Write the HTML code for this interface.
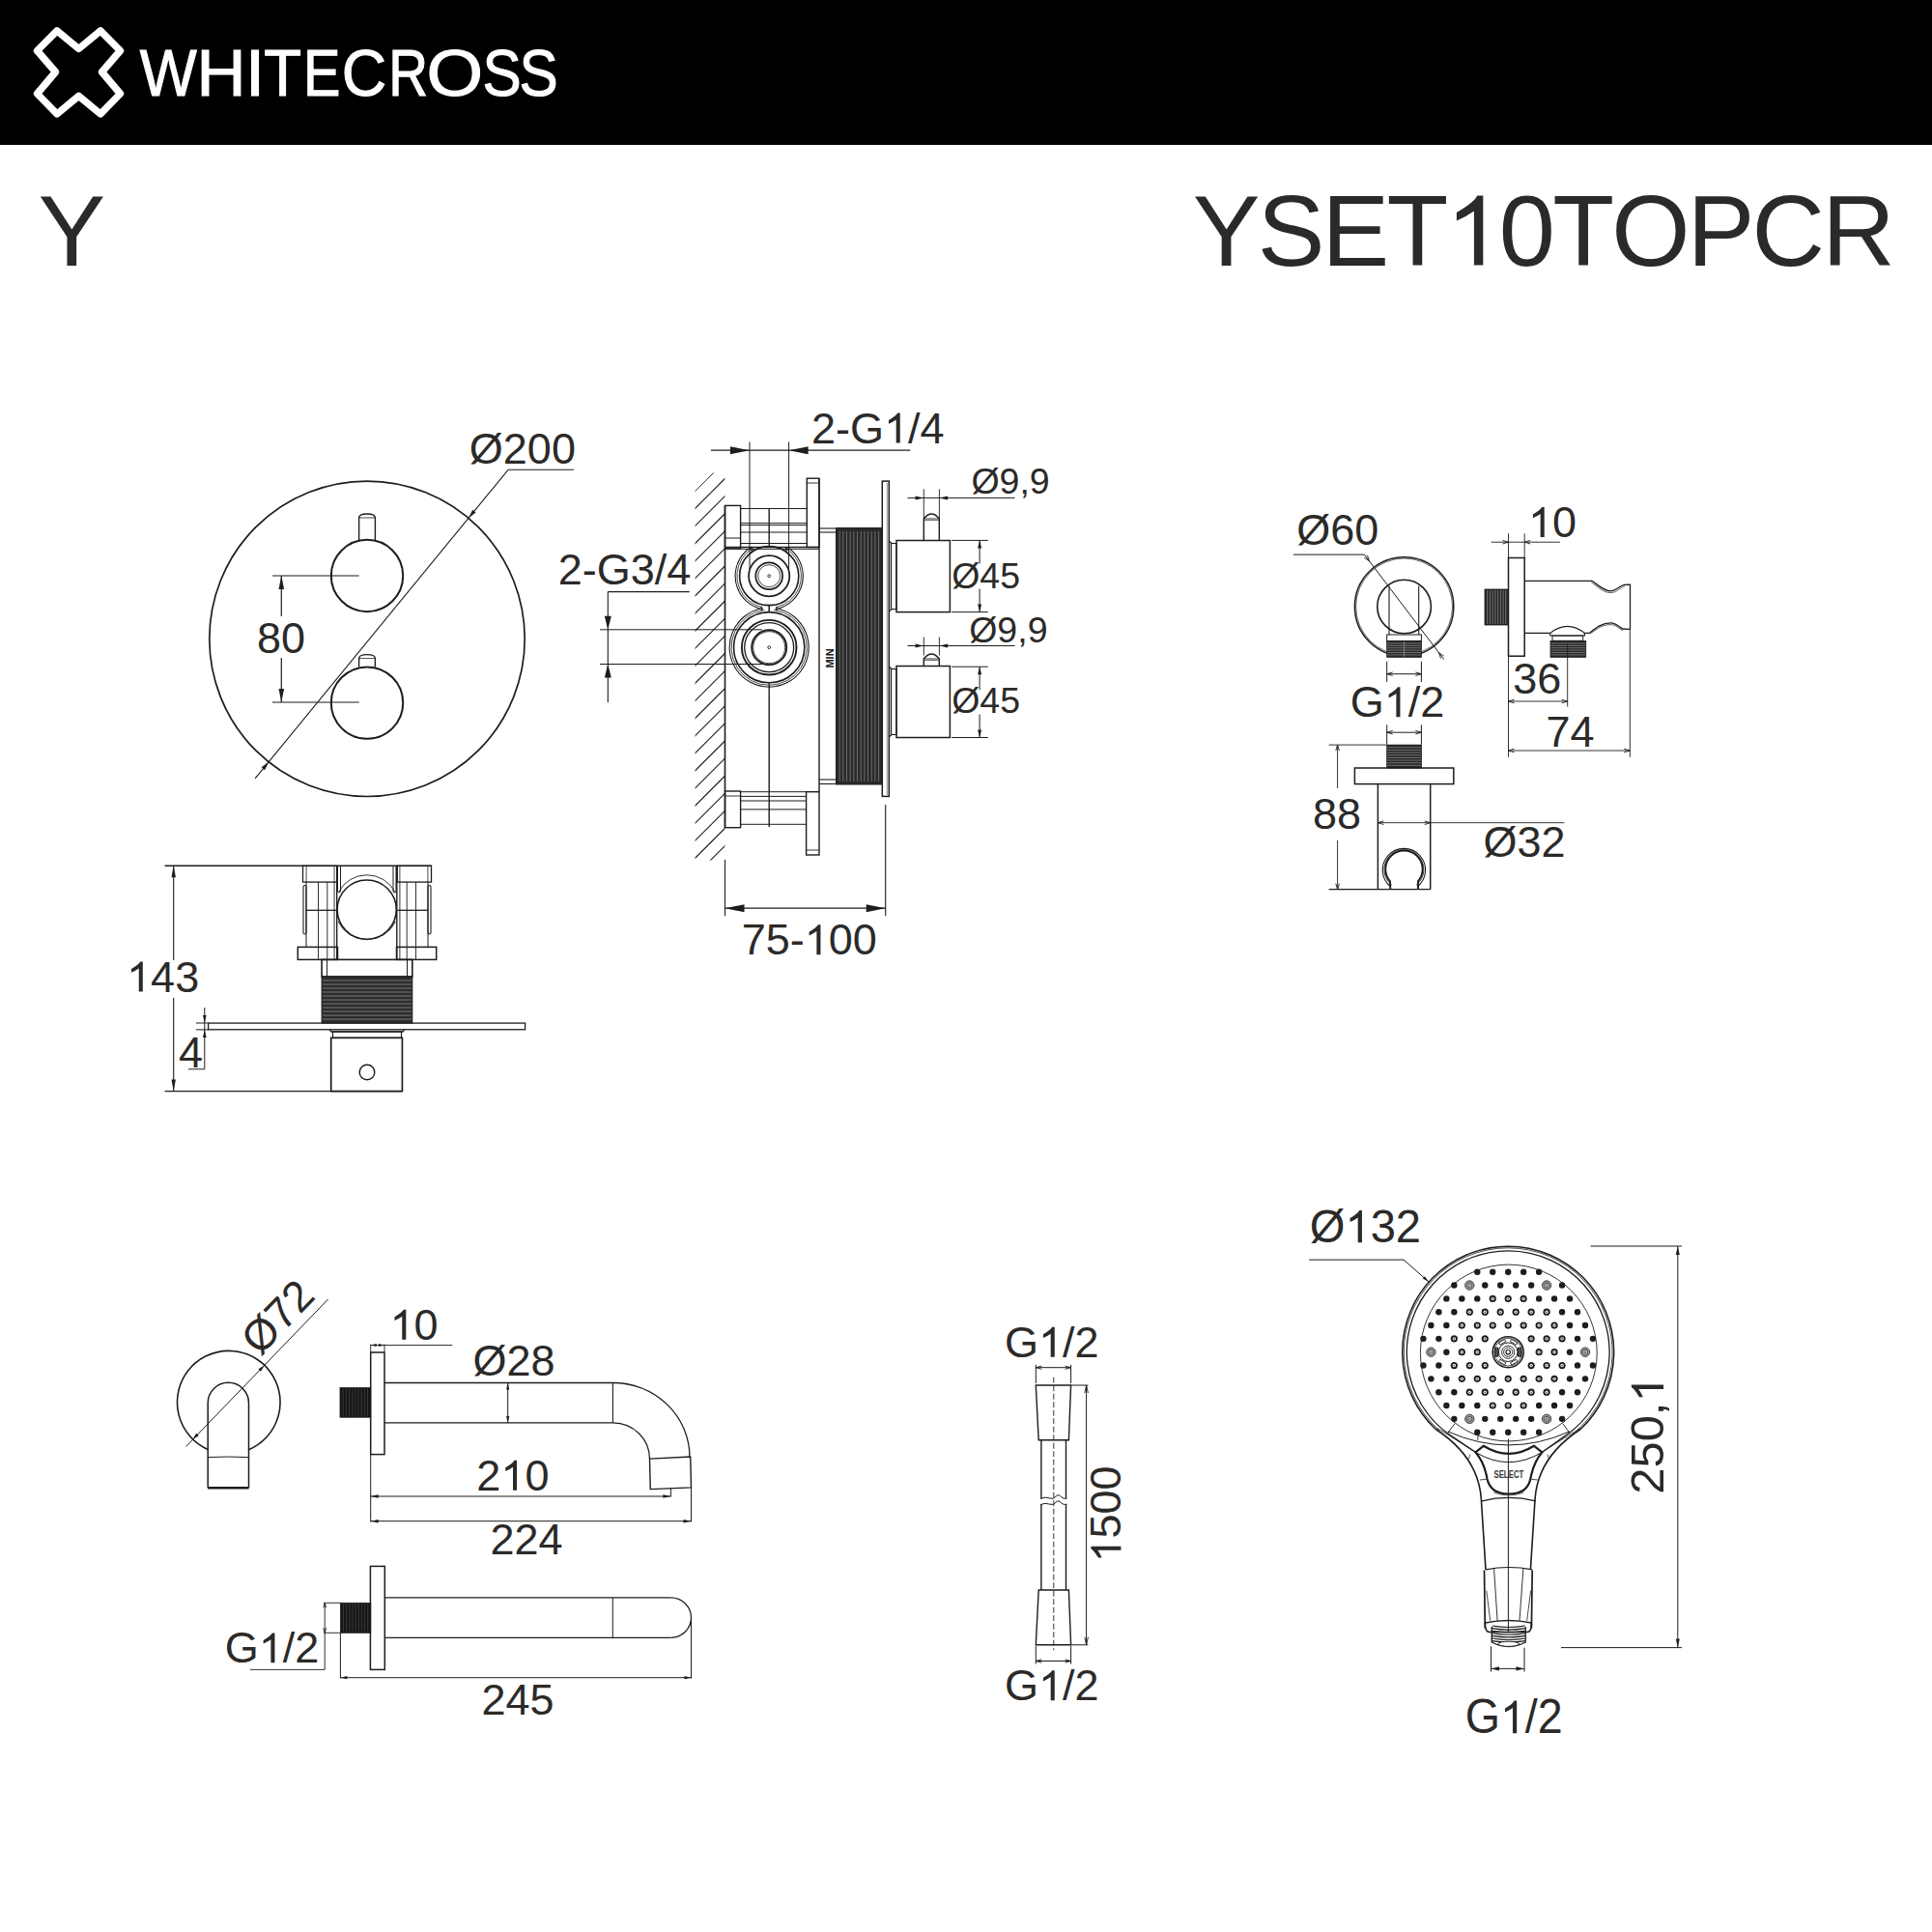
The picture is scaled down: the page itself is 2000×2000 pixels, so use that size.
<!DOCTYPE html>
<html><head><meta charset="utf-8"><style>
html,body{margin:0;padding:0;background:#fff;}
svg{display:block;}
text{font-family:"Liberation Sans",sans-serif;font-kerning:none;}
</style></head><body>
<svg width="2000" height="2000" viewBox="0 0 2000 2000">
<rect x="0" y="0" width="2000" height="150" fill="#000"/>
<path d="M81.5,50.5 L104,31.8 L124.5,52.5 L105.5,74.5 L124.5,97 L104,118 L81.5,99.4 L59,118 L38.5,97 L57.5,74.5 L38.5,52.5 L59,31.8 Z" fill="none" stroke="#fff" stroke-width="7.4" stroke-linejoin="round"/>
<text x="0" y="0" font-size="69" fill="#fff" stroke="#fff" stroke-width="1.1" transform="translate(144.73,99.3) scale(0.9058,1)">W</text>
<text x="0" y="0" font-size="69" fill="#fff" stroke="#fff" stroke-width="1.1" transform="translate(203.50,99.3) scale(1.0248,1)">H</text>
<text x="0" y="0" font-size="69" fill="#fff" stroke="#fff" stroke-width="1.1" transform="translate(253.67,99.3) scale(1.0723,1)">I</text>
<text x="0" y="0" font-size="69" fill="#fff" stroke="#fff" stroke-width="1.1" transform="translate(273.37,99.3) scale(0.9202,1)">T</text>
<text x="0" y="0" font-size="69" fill="#fff" stroke="#fff" stroke-width="1.1" transform="translate(314.08,99.3) scale(0.8343,1)">E</text>
<text x="0" y="0" font-size="69" fill="#fff" stroke="#fff" stroke-width="1.1" transform="translate(353.64,99.3) scale(0.9314,1)">C</text>
<text x="0" y="0" font-size="69" fill="#fff" stroke="#fff" stroke-width="1.1" transform="translate(402.26,99.3) scale(0.8201,1)">R</text>
<text x="0" y="0" font-size="69" fill="#fff" stroke="#fff" stroke-width="1.1" transform="translate(441.43,99.3) scale(1.0913,1)">O</text>
<text x="0" y="0" font-size="69" fill="#fff" stroke="#fff" stroke-width="1.1" transform="translate(499.46,99.3) scale(0.8736,1)">S</text>
<text x="0" y="0" font-size="69" fill="#fff" stroke="#fff" stroke-width="1.1" transform="translate(537.56,99.3) scale(0.8736,1)">S</text>
<text x="39.50" y="274.50" font-size="104.5" text-anchor="start" fill="#2b2a29" >Y</text>
<g transform="translate(1234.8,274.5)"><text x="0.00" y="0" font-size="104.5" fill="#2b2a29" letter-spacing="-2.8">YSET</text><path d="M576,0 L760,0 L760,1409 L641,1409 Q585,1278 223,1067 L223,900 Q430,990 576,1096 Z" fill="#2b2a29" transform="translate(261.73,0) scale(0.05103,-0.05103)"/><text x="317.05" y="0" font-size="104.5" fill="#2b2a29" letter-spacing="-2.8">0TOPCR</text></g>
<circle cx="380.00" cy="661.30" r="163.20" fill="none" stroke="#1d1d1b" stroke-width="1.7"/>
<circle cx="380.00" cy="596.00" r="37.20" fill="none" stroke="#1d1d1b" stroke-width="2.0"/>
<path d="M371.6,559.0 L371.6,536.0 Q371.6,532.0 380,532.0 Q388.4,532.0 388.4,536.0 L388.4,559.0" fill="none" stroke="#1d1d1b" stroke-width="1.4" />
<line x1="371.60" y1="536.00" x2="388.40" y2="536.00" stroke="#1d1d1b" stroke-width="0.8" />
<circle cx="380.00" cy="727.60" r="37.20" fill="none" stroke="#1d1d1b" stroke-width="2.0"/>
<path d="M371.6,690.6 L371.6,681.6 Q371.6,677.6 380,677.6 Q388.4,677.6 388.4,681.6 L388.4,690.6" fill="none" stroke="#1d1d1b" stroke-width="1.4" />
<line x1="371.60" y1="681.60" x2="388.40" y2="681.60" stroke="#1d1d1b" stroke-width="0.8" />
<line x1="282.00" y1="596.00" x2="371.70" y2="596.00" stroke="#1d1d1b" stroke-width="1.2" />
<line x1="282.00" y1="727.00" x2="371.70" y2="727.00" stroke="#1d1d1b" stroke-width="1.2" />
<line x1="291.30" y1="596.00" x2="291.30" y2="638.00" stroke="#1d1d1b" stroke-width="1.2" />
<line x1="291.30" y1="681.00" x2="291.30" y2="727.00" stroke="#1d1d1b" stroke-width="1.2" />
<path d="M291.30,596.00 L294.10,610.00 L288.50,610.00 Z" fill="#1d1d1b" stroke="none"/>
<path d="M291.30,727.00 L288.50,713.00 L294.10,713.00 Z" fill="#1d1d1b" stroke="none"/>
<g transform="translate(266.04,676.26)"><text x="0.00" y="0" font-size="45" fill="#2b2a29">80</text></g>
<line x1="264.10" y1="805.90" x2="526.00" y2="486.30" stroke="#1d1d1b" stroke-width="1.1" />
<line x1="526.00" y1="486.30" x2="594.00" y2="486.30" stroke="#1d1d1b" stroke-width="1.1" />
<path d="M485.20,536.00 L489.20,527.64 L492.60,530.43 Z" fill="#1d1d1b" stroke="none"/>
<path d="M278.10,788.80 L274.10,797.16 L270.70,794.37 Z" fill="#1d1d1b" stroke="none"/>
<g transform="translate(485.84,479.96)"><text x="0.00" y="0" font-size="45" fill="#2b2a29">&#216;200</text></g>
<clipPath id="hclip"><polygon points="719.6,508 738,489.5 750.4,489.5 750.4,890.5 719.6,890.5"/></clipPath>
<path d="M714.6,495.10 L755.4,454.30 M714.6,513.20 L755.4,472.40 M714.6,531.30 L755.4,490.50 M714.6,549.40 L755.4,508.60 M714.6,567.50 L755.4,526.70 M714.6,585.60 L755.4,544.80 M714.6,603.70 L755.4,562.90 M714.6,621.80 L755.4,581.00 M714.6,639.90 L755.4,599.10 M714.6,658.00 L755.4,617.20 M714.6,676.10 L755.4,635.30 M714.6,694.20 L755.4,653.40 M714.6,712.30 L755.4,671.50 M714.6,730.40 L755.4,689.60 M714.6,748.50 L755.4,707.70 M714.6,766.60 L755.4,725.80 M714.6,784.70 L755.4,743.90 M714.6,802.80 L755.4,762.00 M714.6,820.90 L755.4,780.10 M714.6,839.00 L755.4,798.20 M714.6,857.10 L755.4,816.30 M714.6,875.20 L755.4,834.40 M714.6,893.30 L755.4,852.50 M714.6,911.40 L755.4,870.60 M714.6,929.50 L755.4,888.70 M714.6,947.60 L755.4,906.80 M714.6,965.70 L755.4,924.90" fill="none" stroke="#1d1d1b" stroke-width="1.1" clip-path="url(#hclip)"/>
<line x1="750.50" y1="523.40" x2="750.50" y2="856.70" stroke="#1d1d1b" stroke-width="1.6" />
<rect x="750.50" y="523.40" width="16.10" height="44.50" fill="none" stroke="#1d1d1b" stroke-width="1.4" rx="0"/>
<line x1="750.50" y1="557.00" x2="766.60" y2="557.00" stroke="#1d1d1b" stroke-width="1.0" />
<line x1="766.60" y1="526.50" x2="835.30" y2="526.50" stroke="#1d1d1b" stroke-width="1.0" />
<line x1="766.60" y1="541.60" x2="835.30" y2="541.60" stroke="#1d1d1b" stroke-width="1.0" />
<line x1="766.60" y1="543.60" x2="835.30" y2="543.60" stroke="#1d1d1b" stroke-width="1.0" />
<line x1="766.60" y1="551.00" x2="835.30" y2="551.00" stroke="#1d1d1b" stroke-width="1.0" />
<line x1="766.60" y1="562.50" x2="835.30" y2="562.50" stroke="#1d1d1b" stroke-width="1.0" />
<line x1="796.20" y1="526.50" x2="796.20" y2="566.50" stroke="#1d1d1b" stroke-width="1.4" />
<rect x="835.30" y="495.20" width="12.70" height="71.30" fill="none" stroke="#1d1d1b" stroke-width="1.4" rx="0"/>
<line x1="835.30" y1="500.00" x2="848.00" y2="500.00" stroke="#1d1d1b" stroke-width="0.9" />
<line x1="750.50" y1="566.50" x2="848.00" y2="566.50" stroke="#1d1d1b" stroke-width="1.4" />
<line x1="750.50" y1="568.40" x2="848.00" y2="568.40" stroke="#1d1d1b" stroke-width="0.9" />
<line x1="848.00" y1="495.20" x2="848.00" y2="819.70" stroke="#1d1d1b" stroke-width="1.4" />
<line x1="848.00" y1="547.00" x2="865.50" y2="547.00" stroke="#1d1d1b" stroke-width="1.1" />
<line x1="848.00" y1="551.00" x2="865.50" y2="551.00" stroke="#1d1d1b" stroke-width="1.1" />
<line x1="848.00" y1="807.00" x2="865.50" y2="807.00" stroke="#1d1d1b" stroke-width="1.1" />
<line x1="848.00" y1="811.50" x2="865.50" y2="811.50" stroke="#1d1d1b" stroke-width="1.1" />
<rect x="865.50" y="546.50" width="47.80" height="265.50" fill="#2a2a2a" stroke="#1d1d1b" stroke-width="1.0" rx="0"/>
<line x1="869.18" y1="550.00" x2="869.18" y2="809.00" stroke="#8a8a8a" stroke-width="0.7" />
<line x1="872.85" y1="550.00" x2="872.85" y2="809.00" stroke="#8a8a8a" stroke-width="0.7" />
<line x1="876.53" y1="550.00" x2="876.53" y2="809.00" stroke="#8a8a8a" stroke-width="0.7" />
<line x1="880.21" y1="550.00" x2="880.21" y2="809.00" stroke="#8a8a8a" stroke-width="0.7" />
<line x1="883.88" y1="550.00" x2="883.88" y2="809.00" stroke="#8a8a8a" stroke-width="0.7" />
<line x1="887.56" y1="550.00" x2="887.56" y2="809.00" stroke="#8a8a8a" stroke-width="0.7" />
<line x1="891.24" y1="550.00" x2="891.24" y2="809.00" stroke="#8a8a8a" stroke-width="0.7" />
<line x1="894.92" y1="550.00" x2="894.92" y2="809.00" stroke="#8a8a8a" stroke-width="0.7" />
<line x1="898.59" y1="550.00" x2="898.59" y2="809.00" stroke="#8a8a8a" stroke-width="0.7" />
<line x1="902.27" y1="550.00" x2="902.27" y2="809.00" stroke="#8a8a8a" stroke-width="0.7" />
<line x1="905.95" y1="550.00" x2="905.95" y2="809.00" stroke="#8a8a8a" stroke-width="0.7" />
<line x1="909.62" y1="550.00" x2="909.62" y2="809.00" stroke="#8a8a8a" stroke-width="0.7" />
<rect x="913.30" y="498.10" width="7.00" height="326.30" fill="none" stroke="#1d1d1b" stroke-width="1.5" rx="0"/>
<line x1="918.30" y1="500.00" x2="918.30" y2="823.00" stroke="#777" stroke-width="0.8" />
<path d="M920.3,560.0 L922.5,562.0 L922.5,631.1 L920.3,633.1" fill="none" stroke="#1d1d1b" stroke-width="1.2" />
<rect x="922.50" y="562.50" width="5.50" height="68.10" fill="none" stroke="#1d1d1b" stroke-width="1.1" rx="0"/>
<rect x="928.00" y="559.50" width="55.40" height="74.10" fill="none" stroke="#1d1d1b" stroke-width="1.5" rx="0"/>
<path d="M956.3,559.5 L956.3,537.0 Q964.3,527.0 972.3,537.0 L972.3,559.5" fill="none" stroke="#1d1d1b" stroke-width="1.4" />
<line x1="956.30" y1="537.00" x2="972.30" y2="537.00" stroke="#1d1d1b" stroke-width="0.9" />
<line x1="956.30" y1="538.50" x2="972.30" y2="538.50" stroke="#1d1d1b" stroke-width="0.6" />
<path d="M920.3,690.0 L922.5,692.0 L922.5,761.0 L920.3,763.0" fill="none" stroke="#1d1d1b" stroke-width="1.2" />
<rect x="922.50" y="692.50" width="5.50" height="68.00" fill="none" stroke="#1d1d1b" stroke-width="1.1" rx="0"/>
<rect x="928.00" y="689.50" width="55.40" height="74.00" fill="none" stroke="#1d1d1b" stroke-width="1.5" rx="0"/>
<path d="M956.3,689.5 L956.3,682.0 Q964.3,672.0 972.3,682.0 L972.3,689.5" fill="none" stroke="#1d1d1b" stroke-width="1.4" />
<line x1="956.30" y1="682.00" x2="972.30" y2="682.00" stroke="#1d1d1b" stroke-width="0.9" />
<line x1="956.30" y1="683.50" x2="972.30" y2="683.50" stroke="#1d1d1b" stroke-width="0.6" />
<path d="M777.03,566.80 A35.1,35.1 0 0 0 766.00,578.31 A35.1,35.1 0 0 0 761.20,593.51 A35.1,35.1 0 0 0 763.62,609.27 A35.1,35.1 0 0 0 772.76,622.33 A35.1,35.1 0 0 0 786.74,630.00" fill="none" stroke="#1d1d1b" stroke-width="1.1" />
<path d="M815.37,566.80 A35.1,35.1 0 0 1 826.40,578.31 A35.1,35.1 0 0 1 831.20,593.51 A35.1,35.1 0 0 1 828.78,609.27 A35.1,35.1 0 0 1 819.64,622.33 A35.1,35.1 0 0 1 805.66,630.00" fill="none" stroke="#1d1d1b" stroke-width="1.1" />
<path d="M778.81,567.80 A33.3,33.3 0 0 0 767.80,578.81 A33.3,33.3 0 0 0 763.00,593.61 A33.3,33.3 0 0 0 765.45,608.99 A33.3,33.3 0 0 0 774.62,621.56 A33.3,33.3 0 0 0 788.51,628.60" fill="none" stroke="#1d1d1b" stroke-width="0.8" />
<path d="M813.59,567.80 A33.3,33.3 0 0 1 824.60,578.81 A33.3,33.3 0 0 1 829.40,593.61 A33.3,33.3 0 0 1 826.95,608.99 A33.3,33.3 0 0 1 817.78,621.56 A33.3,33.3 0 0 1 803.89,628.60" fill="none" stroke="#1d1d1b" stroke-width="0.8" />
<circle cx="796.20" cy="596.20" r="30.60" fill="none" stroke="#1d1d1b" stroke-width="1.6"/>
<circle cx="796.20" cy="596.20" r="21.10" fill="none" stroke="#1d1d1b" stroke-width="1.7"/>
<circle cx="796.20" cy="596.20" r="13.90" fill="none" stroke="#1d1d1b" stroke-width="1.7"/>
<circle cx="796.20" cy="596.20" r="11.50" fill="none" stroke="#1d1d1b" stroke-width="0.8"/>
<circle cx="796.20" cy="596.20" r="1.40" fill="none" stroke="#1d1d1b" stroke-width="0.9"/>
<path d="M788.14,630.00 A41.0,41.0 0 0 0 770.15,638.54 A41.0,41.0 0 0 0 758.31,654.55 A41.0,41.0 0 0 0 755.40,674.25 A41.0,41.0 0 0 0 762.12,693.00 A41.0,41.0 0 0 0 776.88,706.36 A41.0,41.0 0 0 0 796.20,711.20" fill="none" stroke="#1d1d1b" stroke-width="1.1" />
<path d="M804.26,630.00 A41.0,41.0 0 0 1 822.25,638.54 A41.0,41.0 0 0 1 834.09,654.55 A41.0,41.0 0 0 1 837.00,674.25 A41.0,41.0 0 0 1 830.28,693.00 A41.0,41.0 0 0 1 815.52,706.36 A41.0,41.0 0 0 1 796.20,711.20" fill="none" stroke="#1d1d1b" stroke-width="1.1" />
<path d="M791.37,631.40 A39.1,39.1 0 0 0 773.26,638.53 A39.1,39.1 0 0 0 760.84,653.51 A39.1,39.1 0 0 0 757.18,672.62 A39.1,39.1 0 0 0 763.17,691.13 A39.1,39.1 0 0 0 777.35,704.46 A39.1,39.1 0 0 0 796.20,709.30" fill="none" stroke="#1d1d1b" stroke-width="0.8" />
<path d="M801.03,631.40 A39.1,39.1 0 0 1 819.14,638.53 A39.1,39.1 0 0 1 831.56,653.51 A39.1,39.1 0 0 1 835.22,672.62 A39.1,39.1 0 0 1 829.23,691.13 A39.1,39.1 0 0 1 815.05,704.46 A39.1,39.1 0 0 1 796.20,709.30" fill="none" stroke="#1d1d1b" stroke-width="0.8" />
<circle cx="796.20" cy="670.20" r="36.60" fill="none" stroke="#1d1d1b" stroke-width="1.6"/>
<circle cx="796.20" cy="670.20" r="28.30" fill="none" stroke="#1d1d1b" stroke-width="1.9"/>
<circle cx="796.20" cy="670.20" r="25.50" fill="none" stroke="#1d1d1b" stroke-width="1.3"/>
<circle cx="796.20" cy="670.20" r="18.00" fill="none" stroke="#1d1d1b" stroke-width="1.9"/>
<circle cx="796.20" cy="670.20" r="16.50" fill="none" stroke="#1d1d1b" stroke-width="0.8"/>
<circle cx="796.20" cy="670.20" r="1.40" fill="none" stroke="#1d1d1b" stroke-width="0.9"/>
<path d="M787.4,628.2 Q790.6,630 787.6,631.6" fill="none" stroke="#1d1d1b" stroke-width="1.6" />
<path d="M805.0,628.2 Q801.8,630 804.8,631.6" fill="none" stroke="#1d1d1b" stroke-width="1.6" />
<line x1="796.20" y1="626.30" x2="796.20" y2="633.40" stroke="#1d1d1b" stroke-width="1.5" />
<line x1="791.70" y1="626.30" x2="800.70" y2="626.30" stroke="#1d1d1b" stroke-width="1.2" />
<path d="M777.0,566.6 L779.2,568.4 L777.6,570.4" fill="none" stroke="#1d1d1b" stroke-width="1.3" />
<path d="M815.4,566.6 L813.2,568.4 L814.8,570.4" fill="none" stroke="#1d1d1b" stroke-width="1.3" />
<line x1="796.20" y1="706.80" x2="796.20" y2="856.00" stroke="#1d1d1b" stroke-width="1.4" />
<rect x="750.50" y="819.00" width="16.10" height="37.70" fill="none" stroke="#1d1d1b" stroke-width="1.4" rx="0"/>
<line x1="750.50" y1="824.00" x2="766.60" y2="824.00" stroke="#1d1d1b" stroke-width="0.9" />
<line x1="766.60" y1="819.70" x2="834.60" y2="819.70" stroke="#1d1d1b" stroke-width="1.0" />
<line x1="766.60" y1="824.40" x2="834.60" y2="824.40" stroke="#1d1d1b" stroke-width="1.0" />
<line x1="766.60" y1="829.00" x2="834.60" y2="829.00" stroke="#1d1d1b" stroke-width="1.0" />
<line x1="766.60" y1="837.90" x2="834.60" y2="837.90" stroke="#1d1d1b" stroke-width="1.0" />
<line x1="766.60" y1="853.30" x2="834.60" y2="853.30" stroke="#1d1d1b" stroke-width="1.0" />
<rect x="834.60" y="819.70" width="13.40" height="65.30" fill="none" stroke="#1d1d1b" stroke-width="1.4" rx="0"/>
<line x1="834.60" y1="880.00" x2="848.00" y2="880.00" stroke="#1d1d1b" stroke-width="0.9" />
<text x="0" y="0" font-size="11" font-weight="bold" fill="#1d1d1b" text-anchor="middle" transform="translate(862.5,681.5) rotate(-90)">MIN</text>
<line x1="776.00" y1="457.50" x2="776.00" y2="589.00" stroke="#1d1d1b" stroke-width="1.0" />
<line x1="816.60" y1="457.50" x2="816.60" y2="589.00" stroke="#1d1d1b" stroke-width="1.0" />
<line x1="736.00" y1="466.20" x2="942.30" y2="466.20" stroke="#1d1d1b" stroke-width="1.2" />
<path d="M776.00,466.20 L756.00,470.20 L756.00,462.20 Z" fill="#1d1d1b" stroke="none"/>
<path d="M816.60,466.20 L836.60,462.20 L836.60,470.20 Z" fill="#1d1d1b" stroke="none"/>
<g transform="translate(840.04,458.56)"><text x="0.00" y="0" font-size="45" fill="#2b2a29">2-G</text><path d="M576,0 L760,0 L760,1409 L641,1409 Q585,1278 223,1067 L223,900 Q430,990 576,1096 Z" fill="#2b2a29" transform="translate(75.01,0) scale(0.02197,-0.02197)"/><text x="100.04" y="0" font-size="45" fill="#2b2a29">/4</text></g>
<g transform="translate(577.64,604.66)"><text x="0.00" y="0" font-size="45" fill="#2b2a29">2-G3/4</text></g>
<line x1="629.30" y1="612.60" x2="713.70" y2="612.60" stroke="#1d1d1b" stroke-width="1.1" />
<line x1="629.30" y1="612.60" x2="629.30" y2="727.20" stroke="#1d1d1b" stroke-width="1.1" />
<path d="M629.30,651.80 L625.80,637.80 L632.80,637.80 Z" fill="#1d1d1b" stroke="none"/>
<path d="M629.30,687.50 L632.80,701.50 L625.80,701.50 Z" fill="#1d1d1b" stroke="none"/>
<line x1="621.00" y1="651.80" x2="789.00" y2="651.80" stroke="#1d1d1b" stroke-width="1.0" />
<line x1="621.00" y1="687.50" x2="789.00" y2="687.50" stroke="#1d1d1b" stroke-width="1.0" />
<line x1="939.50" y1="515.40" x2="1050.50" y2="515.40" stroke="#1d1d1b" stroke-width="1.0" />
<line x1="956.30" y1="506.40" x2="956.30" y2="536.70" stroke="#1d1d1b" stroke-width="0.9" />
<line x1="972.40" y1="506.40" x2="972.40" y2="536.70" stroke="#1d1d1b" stroke-width="0.9" />
<path d="M956.30,515.40 L947.60,517.40 L947.60,513.40 Z" fill="#1d1d1b" stroke="none"/>
<path d="M972.40,515.40 L981.10,513.40 L981.10,517.40 Z" fill="#1d1d1b" stroke="none"/>
<g transform="translate(1005.40,511.33)"><text x="0.00" y="0" font-size="37.5" fill="#2b2a29">&#216;9,9</text></g>
<line x1="939.50" y1="668.50" x2="1050.50" y2="668.50" stroke="#1d1d1b" stroke-width="1.0" />
<line x1="956.30" y1="659.50" x2="956.30" y2="678.50" stroke="#1d1d1b" stroke-width="0.9" />
<line x1="972.40" y1="659.50" x2="972.40" y2="678.50" stroke="#1d1d1b" stroke-width="0.9" />
<path d="M956.30,668.50 L947.60,670.50 L947.60,666.50 Z" fill="#1d1d1b" stroke="none"/>
<path d="M972.40,668.50 L981.10,666.50 L981.10,670.50 Z" fill="#1d1d1b" stroke="none"/>
<g transform="translate(1003.20,664.73)"><text x="0.00" y="0" font-size="37.5" fill="#2b2a29">&#216;9,9</text></g>
<line x1="985.10" y1="559.40" x2="1022.80" y2="559.40" stroke="#1d1d1b" stroke-width="1.0" />
<line x1="985.10" y1="633.60" x2="1022.80" y2="633.60" stroke="#1d1d1b" stroke-width="1.0" />
<line x1="1014.10" y1="559.40" x2="1014.10" y2="583.40" stroke="#1d1d1b" stroke-width="1.0" />
<line x1="1014.10" y1="609.60" x2="1014.10" y2="633.60" stroke="#1d1d1b" stroke-width="1.0" />
<path d="M1014.10,559.40 L1016.10,567.40 L1012.10,567.40 Z" fill="#1d1d1b" stroke="none"/>
<path d="M1014.10,633.60 L1012.10,625.60 L1016.10,625.60 Z" fill="#1d1d1b" stroke="none"/>
<g transform="translate(985.20,608.73)"><text x="0.00" y="0" font-size="37.5" fill="#2b2a29">&#216;45</text></g>
<line x1="985.10" y1="690.20" x2="1022.80" y2="690.20" stroke="#1d1d1b" stroke-width="1.0" />
<line x1="985.10" y1="763.50" x2="1022.80" y2="763.50" stroke="#1d1d1b" stroke-width="1.0" />
<line x1="1014.10" y1="690.20" x2="1014.10" y2="714.20" stroke="#1d1d1b" stroke-width="1.0" />
<line x1="1014.10" y1="739.50" x2="1014.10" y2="763.50" stroke="#1d1d1b" stroke-width="1.0" />
<path d="M1014.10,690.20 L1016.10,698.20 L1012.10,698.20 Z" fill="#1d1d1b" stroke="none"/>
<path d="M1014.10,763.50 L1012.10,755.50 L1016.10,755.50 Z" fill="#1d1d1b" stroke="none"/>
<g transform="translate(985.20,738.33)"><text x="0.00" y="0" font-size="37.5" fill="#2b2a29">&#216;45</text></g>
<line x1="750.50" y1="890.00" x2="750.50" y2="948.20" stroke="#1d1d1b" stroke-width="1.1" />
<line x1="916.70" y1="833.00" x2="916.70" y2="948.20" stroke="#1d1d1b" stroke-width="1.1" />
<line x1="750.50" y1="940.20" x2="916.70" y2="940.20" stroke="#1d1d1b" stroke-width="1.2" />
<path d="M750.50,940.20 L770.50,936.20 L770.50,944.20 Z" fill="#1d1d1b" stroke="none"/>
<path d="M916.70,940.20 L896.70,944.20 L896.70,936.20 Z" fill="#1d1d1b" stroke="none"/>
<g transform="translate(767.69,988.16)"><text x="0.00" y="0" font-size="45" fill="#2b2a29">75-</text><path d="M576,0 L760,0 L760,1409 L641,1409 Q585,1278 223,1067 L223,900 Q430,990 576,1096 Z" fill="#2b2a29" transform="translate(65.04,0) scale(0.02197,-0.02197)"/><text x="90.07" y="0" font-size="45" fill="#2b2a29">00</text></g>
<line x1="170.60" y1="896.20" x2="446.80" y2="896.20" stroke="#1d1d1b" stroke-width="1.4" />
<line x1="170.60" y1="1129.60" x2="416.00" y2="1129.60" stroke="#1d1d1b" stroke-width="1.4" />
<line x1="179.70" y1="896.20" x2="179.70" y2="994.00" stroke="#1d1d1b" stroke-width="1.1" />
<line x1="179.70" y1="1033.00" x2="179.70" y2="1129.60" stroke="#1d1d1b" stroke-width="1.1" />
<path d="M179.70,896.20 L181.90,908.20 L177.50,908.20 Z" fill="#1d1d1b" stroke="none"/>
<path d="M179.70,1129.60 L177.50,1117.60 L181.90,1117.60 Z" fill="#1d1d1b" stroke="none"/>
<g transform="translate(131.10,1026.56)"><path d="M576,0 L760,0 L760,1409 L641,1409 Q585,1278 223,1067 L223,900 Q430,990 576,1096 Z" fill="#2b2a29" transform="translate(0.00,0) scale(0.02197,-0.02197)"/><text x="25.03" y="0" font-size="45" fill="#2b2a29">43</text></g>
<g transform="translate(184.97,1104.60)"><text x="0.00" y="0" font-size="45" fill="#2b2a29">4</text></g>
<line x1="203.00" y1="1059.00" x2="215.60" y2="1059.00" stroke="#1d1d1b" stroke-width="1.0" />
<line x1="203.00" y1="1065.90" x2="215.60" y2="1065.90" stroke="#1d1d1b" stroke-width="1.0" />
<line x1="211.80" y1="1043.00" x2="211.80" y2="1106.80" stroke="#1d1d1b" stroke-width="1.0" />
<line x1="195.00" y1="1106.80" x2="211.80" y2="1106.80" stroke="#1d1d1b" stroke-width="1.0" />
<path d="M211.80,1059.00 L210.00,1051.00 L213.60,1051.00 Z" fill="#1d1d1b" stroke="none"/>
<path d="M211.80,1065.90 L213.60,1073.90 L210.00,1073.90 Z" fill="#1d1d1b" stroke="none"/>
<rect x="215.60" y="1059.10" width="328.00" height="6.70" fill="none" stroke="#1d1d1b" stroke-width="1.3" rx="0"/>
<rect x="313.50" y="896.40" width="35.20" height="16.70" fill="none" stroke="#1d1d1b" stroke-width="1.3" rx="0"/>
<line x1="317.00" y1="913.10" x2="317.00" y2="980.40" stroke="#1d1d1b" stroke-width="1.0" />
<rect x="308.30" y="980.40" width="41.20" height="13.00" fill="none" stroke="#1d1d1b" stroke-width="1.5" rx="0"/>
<line x1="329.50" y1="913.10" x2="329.50" y2="993.40" stroke="#1d1d1b" stroke-width="0.9" />
<line x1="338.80" y1="913.10" x2="338.80" y2="993.40" stroke="#1d1d1b" stroke-width="0.9" />
<line x1="346.10" y1="913.10" x2="346.10" y2="993.40" stroke="#1d1d1b" stroke-width="0.9" />
<line x1="317.10" y1="896.40" x2="317.10" y2="913.10" stroke="#1d1d1b" stroke-width="0.8" />
<line x1="346.10" y1="896.40" x2="346.10" y2="913.10" stroke="#1d1d1b" stroke-width="0.8" />
<line x1="317.00" y1="942.30" x2="348.70" y2="942.30" stroke="#1d1d1b" stroke-width="1.3" />
<rect x="314.00" y="916.50" width="3.00" height="50.50" fill="none" stroke="#1d1d1b" stroke-width="1.1" rx="1.5"/>
<rect x="411.30" y="896.40" width="35.20" height="16.70" fill="none" stroke="#1d1d1b" stroke-width="1.3" rx="0"/>
<line x1="443.00" y1="913.10" x2="443.00" y2="980.40" stroke="#1d1d1b" stroke-width="1.0" />
<rect x="410.50" y="980.40" width="41.20" height="13.00" fill="none" stroke="#1d1d1b" stroke-width="1.5" rx="0"/>
<line x1="430.50" y1="913.10" x2="430.50" y2="993.40" stroke="#1d1d1b" stroke-width="0.9" />
<line x1="421.20" y1="913.10" x2="421.20" y2="993.40" stroke="#1d1d1b" stroke-width="0.9" />
<line x1="413.90" y1="913.10" x2="413.90" y2="993.40" stroke="#1d1d1b" stroke-width="0.9" />
<line x1="442.90" y1="896.40" x2="442.90" y2="913.10" stroke="#1d1d1b" stroke-width="0.8" />
<line x1="413.90" y1="896.40" x2="413.90" y2="913.10" stroke="#1d1d1b" stroke-width="0.8" />
<line x1="443.00" y1="942.30" x2="411.30" y2="942.30" stroke="#1d1d1b" stroke-width="1.3" />
<rect x="443.00" y="916.50" width="3.00" height="50.50" fill="none" stroke="#1d1d1b" stroke-width="1.1" rx="1.5"/>
<line x1="348.70" y1="896.40" x2="348.70" y2="993.40" stroke="#1d1d1b" stroke-width="1.4" />
<line x1="410.80" y1="896.40" x2="410.80" y2="993.40" stroke="#1d1d1b" stroke-width="1.4" />
<path d="M349.5,896.4 L349.5,923 Q351,925 352.5,923 L352.5,896.4" fill="none" stroke="#1d1d1b" stroke-width="1.0" />
<path d="M410,896.4 L410,923 Q408.5,925 407,923 L407,896.4" fill="none" stroke="#1d1d1b" stroke-width="1.0" />
<circle cx="379.70" cy="941.60" r="30.60" fill="none" stroke="#1d1d1b" stroke-width="1.6"/>
<path d="M350.5,923.5 A33,33 0 0 1 409,923.5" fill="none" stroke="#1d1d1b" stroke-width="0.9" />
<path d="M350,954 A33,33 0 0 0 409.5,954" fill="none" stroke="#1d1d1b" stroke-width="0.9" />
<rect x="333.10" y="993.40" width="93.70" height="17.60" fill="none" stroke="#1d1d1b" stroke-width="1.6" rx="0"/>
<line x1="338.50" y1="993.40" x2="338.50" y2="1059.00" stroke="#1d1d1b" stroke-width="1.0" />
<line x1="421.50" y1="993.40" x2="421.50" y2="1059.00" stroke="#1d1d1b" stroke-width="1.0" />
<rect x="333.10" y="1011.00" width="93.70" height="48.10" fill="#2d2d2d" stroke="#1d1d1b" stroke-width="1.0" rx="0"/>
<line x1="334.00" y1="1015.01" x2="426.00" y2="1015.01" stroke="#9a9a9a" stroke-width="0.7" />
<line x1="334.00" y1="1019.02" x2="426.00" y2="1019.02" stroke="#9a9a9a" stroke-width="0.7" />
<line x1="334.00" y1="1023.02" x2="426.00" y2="1023.02" stroke="#9a9a9a" stroke-width="0.7" />
<line x1="334.00" y1="1027.03" x2="426.00" y2="1027.03" stroke="#9a9a9a" stroke-width="0.7" />
<line x1="334.00" y1="1031.04" x2="426.00" y2="1031.04" stroke="#9a9a9a" stroke-width="0.7" />
<line x1="334.00" y1="1035.05" x2="426.00" y2="1035.05" stroke="#9a9a9a" stroke-width="0.7" />
<line x1="334.00" y1="1039.06" x2="426.00" y2="1039.06" stroke="#9a9a9a" stroke-width="0.7" />
<line x1="334.00" y1="1043.07" x2="426.00" y2="1043.07" stroke="#9a9a9a" stroke-width="0.7" />
<line x1="334.00" y1="1047.08" x2="426.00" y2="1047.08" stroke="#9a9a9a" stroke-width="0.7" />
<line x1="334.00" y1="1051.08" x2="426.00" y2="1051.08" stroke="#9a9a9a" stroke-width="0.7" />
<line x1="334.00" y1="1055.09" x2="426.00" y2="1055.09" stroke="#9a9a9a" stroke-width="0.7" />
<path d="M341.5,1066 L343,1068 L417,1068 L418.5,1066" fill="none" stroke="#1d1d1b" stroke-width="1.3" />
<rect x="344.50" y="1068.00" width="71.00" height="6.40" fill="none" stroke="#1d1d1b" stroke-width="1.2" rx="0"/>
<rect x="342.70" y="1074.40" width="73.70" height="55.20" fill="none" stroke="#1d1d1b" stroke-width="1.7" rx="0"/>
<circle cx="380.00" cy="1110.00" r="7.80" fill="none" stroke="#1d1d1b" stroke-width="1.4"/>
<circle cx="1453.60" cy="628.00" r="51.20" fill="none" stroke="#1d1d1b" stroke-width="1.5"/>
<circle cx="1453.60" cy="628.00" r="50.00" fill="none" stroke="#1d1d1b" stroke-width="0.7"/>
<circle cx="1453.60" cy="628.00" r="27.80" fill="none" stroke="#1d1d1b" stroke-width="1.6"/>
<line x1="1438.00" y1="606.80" x2="1438.00" y2="657.00" stroke="#1d1d1b" stroke-width="1.1" />
<line x1="1468.70" y1="606.80" x2="1468.70" y2="657.00" stroke="#1d1d1b" stroke-width="1.1" />
<rect x="1435.70" y="657.00" width="35.70" height="6.60" fill="none" stroke="#1d1d1b" stroke-width="1.0" rx="0"/>
<rect x="1435.70" y="663.60" width="35.70" height="16.70" fill="#262626" stroke="#1d1d1b" stroke-width="0.8" rx="0"/>
<line x1="1436.00" y1="665.99" x2="1471.00" y2="665.99" stroke="#aaa" stroke-width="0.6" />
<line x1="1436.00" y1="668.37" x2="1471.00" y2="668.37" stroke="#aaa" stroke-width="0.6" />
<line x1="1436.00" y1="670.76" x2="1471.00" y2="670.76" stroke="#aaa" stroke-width="0.6" />
<line x1="1436.00" y1="673.14" x2="1471.00" y2="673.14" stroke="#aaa" stroke-width="0.6" />
<line x1="1436.00" y1="675.53" x2="1471.00" y2="675.53" stroke="#aaa" stroke-width="0.6" />
<line x1="1436.00" y1="677.91" x2="1471.00" y2="677.91" stroke="#aaa" stroke-width="0.6" />
<line x1="1453.60" y1="664.00" x2="1453.60" y2="680.00" stroke="#aaa" stroke-width="0.6" />
<path d="M1338.9,574.1 L1412.4,574.1 L1494.7,682.5" fill="none" stroke="#1d1d1b" stroke-width="1.0" />
<path d="M1412.28,577.23 L1417.50,580.80 L1415.47,574.81" fill="none" stroke="#1d1d1b" stroke-width="0.9"/>
<path d="M1494.72,679.17 L1489.50,675.60 L1491.53,681.59" fill="none" stroke="#1d1d1b" stroke-width="0.9"/>
<g transform="translate(1342.34,563.86)"><text x="0.00" y="0" font-size="45" fill="#2b2a29">&#216;60</text></g>
<line x1="1435.70" y1="684.70" x2="1435.70" y2="705.90" stroke="#1d1d1b" stroke-width="1.0" />
<line x1="1471.40" y1="684.70" x2="1471.40" y2="705.90" stroke="#1d1d1b" stroke-width="1.0" />
<line x1="1435.70" y1="697.70" x2="1471.40" y2="697.70" stroke="#1d1d1b" stroke-width="1.0" />
<path d="M1441.70,695.90 L1435.70,697.70 L1441.70,699.50" fill="none" stroke="#1d1d1b" stroke-width="0.9"/>
<path d="M1465.40,699.50 L1471.40,697.70 L1465.40,695.90" fill="none" stroke="#1d1d1b" stroke-width="0.9"/>
<g transform="translate(1397.74,742.16)"><text x="0.00" y="0" font-size="45" fill="#2b2a29">G</text><path d="M576,0 L760,0 L760,1409 L641,1409 Q585,1278 223,1067 L223,900 Q430,990 576,1096 Z" fill="#2b2a29" transform="translate(35.00,0) scale(0.02197,-0.02197)"/><text x="60.03" y="0" font-size="45" fill="#2b2a29">/2</text></g>
<rect x="1561.50" y="577.50" width="16.70" height="101.70" fill="none" stroke="#1d1d1b" stroke-width="1.5" rx="0"/>
<rect x="1537.00" y="610.00" width="24.50" height="37.00" fill="#262626" stroke="#1d1d1b" stroke-width="0.8" rx="0"/>
<line x1="1539.72" y1="611.00" x2="1539.72" y2="646.00" stroke="#aaa" stroke-width="0.6" />
<line x1="1542.44" y1="611.00" x2="1542.44" y2="646.00" stroke="#aaa" stroke-width="0.6" />
<line x1="1545.17" y1="611.00" x2="1545.17" y2="646.00" stroke="#aaa" stroke-width="0.6" />
<line x1="1547.89" y1="611.00" x2="1547.89" y2="646.00" stroke="#aaa" stroke-width="0.6" />
<line x1="1550.61" y1="611.00" x2="1550.61" y2="646.00" stroke="#aaa" stroke-width="0.6" />
<line x1="1553.33" y1="611.00" x2="1553.33" y2="646.00" stroke="#aaa" stroke-width="0.6" />
<line x1="1556.06" y1="611.00" x2="1556.06" y2="646.00" stroke="#aaa" stroke-width="0.6" />
<line x1="1558.78" y1="611.00" x2="1558.78" y2="646.00" stroke="#aaa" stroke-width="0.6" />
<path d="M1578.2,601.3 L1647.9,601.3 C1655,606 1660,611.8 1667.3,611.8 C1673,611.8 1677,606 1681.3,605.4 L1687.5,605.2 L1687.5,651.4 L1679.6,651 C1676,649 1673,644.8 1667.3,644.8 C1658,644.8 1652,650 1645.3,655.4 L1640.4,655.4" fill="none" stroke="#1d1d1b" stroke-width="1.3" />
<path d="M1647.2,602.6 C1654.5,608 1660,613.6 1667.3,613.6 C1673.5,613.6 1677.5,608 1682,606.8" fill="none" stroke="#1d1d1b" stroke-width="0.7" />
<path d="M1646.5,655.9 C1652.5,651.5 1658,646.6 1667.3,646.6 C1672.5,646.6 1675.5,650.5 1680,652.6" fill="none" stroke="#1d1d1b" stroke-width="0.7" />
<path d="M1604.8,658 L1604.8,655.4 Q1622.6,641.5 1640.4,655.4 L1640.4,658 Z" fill="none" stroke="#1d1d1b" stroke-width="1.2" />
<line x1="1578.20" y1="655.40" x2="1604.80" y2="655.40" stroke="#1d1d1b" stroke-width="1.3" />
<rect x="1607.00" y="658.00" width="31.70" height="5.30" fill="none" stroke="#1d1d1b" stroke-width="1.0" rx="0"/>
<rect x="1605.00" y="663.60" width="36.70" height="16.70" fill="#262626" stroke="#1d1d1b" stroke-width="0.8" rx="0"/>
<line x1="1605.50" y1="665.99" x2="1641.00" y2="665.99" stroke="#aaa" stroke-width="0.6" />
<line x1="1605.50" y1="668.37" x2="1641.00" y2="668.37" stroke="#aaa" stroke-width="0.6" />
<line x1="1605.50" y1="670.76" x2="1641.00" y2="670.76" stroke="#aaa" stroke-width="0.6" />
<line x1="1605.50" y1="673.14" x2="1641.00" y2="673.14" stroke="#aaa" stroke-width="0.6" />
<line x1="1605.50" y1="675.53" x2="1641.00" y2="675.53" stroke="#aaa" stroke-width="0.6" />
<line x1="1605.50" y1="677.91" x2="1641.00" y2="677.91" stroke="#aaa" stroke-width="0.6" />
<line x1="1561.50" y1="552.30" x2="1561.50" y2="577.50" stroke="#1d1d1b" stroke-width="0.9" />
<line x1="1578.20" y1="552.30" x2="1578.20" y2="577.50" stroke="#1d1d1b" stroke-width="0.9" />
<line x1="1543.70" y1="561.20" x2="1615.00" y2="561.20" stroke="#1d1d1b" stroke-width="0.9" />
<path d="M1555.50,563.00 L1561.50,561.20 L1555.50,559.40" fill="none" stroke="#1d1d1b" stroke-width="0.9"/>
<path d="M1584.20,559.40 L1578.20,561.20 L1584.20,563.00" fill="none" stroke="#1d1d1b" stroke-width="0.9"/>
<g transform="translate(1582.00,556.06)"><path d="M576,0 L760,0 L760,1409 L641,1409 Q585,1278 223,1067 L223,900 Q430,990 576,1096 Z" fill="#2b2a29" transform="translate(0.00,0) scale(0.02197,-0.02197)"/><text x="25.03" y="0" font-size="45" fill="#2b2a29">0</text></g>
<line x1="1622.70" y1="666.00" x2="1622.70" y2="731.50" stroke="#1d1d1b" stroke-width="0.9" />
<line x1="1561.50" y1="679.20" x2="1561.50" y2="783.80" stroke="#1d1d1b" stroke-width="0.9" />
<line x1="1561.50" y1="726.00" x2="1622.70" y2="726.00" stroke="#1d1d1b" stroke-width="0.9" />
<path d="M1567.50,724.20 L1561.50,726.00 L1567.50,727.80" fill="none" stroke="#1d1d1b" stroke-width="0.9"/>
<path d="M1616.70,727.80 L1622.70,726.00 L1616.70,724.20" fill="none" stroke="#1d1d1b" stroke-width="0.9"/>
<g transform="translate(1566.29,717.56)"><text x="0.00" y="0" font-size="45" fill="#2b2a29">36</text></g>
<line x1="1687.30" y1="651.30" x2="1687.30" y2="783.80" stroke="#1d1d1b" stroke-width="0.9" />
<line x1="1561.50" y1="777.00" x2="1687.30" y2="777.00" stroke="#1d1d1b" stroke-width="0.9" />
<path d="M1567.50,775.20 L1561.50,777.00 L1567.50,778.80" fill="none" stroke="#1d1d1b" stroke-width="0.9"/>
<path d="M1681.30,778.80 L1687.30,777.00 L1681.30,775.20" fill="none" stroke="#1d1d1b" stroke-width="0.9"/>
<g transform="translate(1600.39,772.70)"><text x="0.00" y="0" font-size="45" fill="#2b2a29">74</text></g>
<line x1="1435.70" y1="750.40" x2="1435.70" y2="770.50" stroke="#1d1d1b" stroke-width="1.0" />
<line x1="1471.40" y1="750.40" x2="1471.40" y2="770.50" stroke="#1d1d1b" stroke-width="1.0" />
<line x1="1435.70" y1="758.20" x2="1471.40" y2="758.20" stroke="#1d1d1b" stroke-width="1.0" />
<path d="M1441.70,756.40 L1435.70,758.20 L1441.70,760.00" fill="none" stroke="#1d1d1b" stroke-width="0.9"/>
<path d="M1465.40,760.00 L1471.40,758.20 L1465.40,756.40" fill="none" stroke="#1d1d1b" stroke-width="0.9"/>
<line x1="1375.60" y1="771.10" x2="1435.70" y2="771.10" stroke="#1d1d1b" stroke-width="0.9" />
<rect x="1435.70" y="771.10" width="35.70" height="23.90" fill="#262626" stroke="#1d1d1b" stroke-width="0.8" rx="0"/>
<line x1="1436.00" y1="773.76" x2="1471.00" y2="773.76" stroke="#aaa" stroke-width="0.6" />
<line x1="1436.00" y1="776.41" x2="1471.00" y2="776.41" stroke="#aaa" stroke-width="0.6" />
<line x1="1436.00" y1="779.07" x2="1471.00" y2="779.07" stroke="#aaa" stroke-width="0.6" />
<line x1="1436.00" y1="781.72" x2="1471.00" y2="781.72" stroke="#aaa" stroke-width="0.6" />
<line x1="1436.00" y1="784.38" x2="1471.00" y2="784.38" stroke="#aaa" stroke-width="0.6" />
<line x1="1436.00" y1="787.03" x2="1471.00" y2="787.03" stroke="#aaa" stroke-width="0.6" />
<line x1="1436.00" y1="789.69" x2="1471.00" y2="789.69" stroke="#aaa" stroke-width="0.6" />
<line x1="1436.00" y1="792.34" x2="1471.00" y2="792.34" stroke="#aaa" stroke-width="0.6" />
<rect x="1402.40" y="795.00" width="102.40" height="16.60" fill="none" stroke="#1d1d1b" stroke-width="1.5" rx="0"/>
<line x1="1426.40" y1="811.60" x2="1426.40" y2="920.70" stroke="#1d1d1b" stroke-width="1.5" />
<line x1="1480.70" y1="811.60" x2="1480.70" y2="920.70" stroke="#1d1d1b" stroke-width="1.5" />
<line x1="1375.60" y1="920.70" x2="1480.70" y2="920.70" stroke="#1d1d1b" stroke-width="1.2" />
<path d="M1439.3,920.1 L1438.9,912.2 A19.2,19.2 0 1 1 1468,912.2 L1468,920.1" fill="none" stroke="#1d1d1b" stroke-width="1.9" />
<path d="M1439.6,918 A22.2,22.2 0 1 1 1467.2,918" fill="none" stroke="#1d1d1b" stroke-width="1.1" />
<path d="M1440.8,916.3 A20.5,20.5 0 1 1 1466,916.3" fill="none" stroke="#1d1d1b" stroke-width="0.8" />
<line x1="1384.60" y1="771.10" x2="1384.60" y2="816.00" stroke="#1d1d1b" stroke-width="0.9" />
<line x1="1384.60" y1="870.00" x2="1384.60" y2="920.70" stroke="#1d1d1b" stroke-width="0.9" />
<path d="M1386.40,777.10 L1384.60,771.10 L1382.80,777.10" fill="none" stroke="#1d1d1b" stroke-width="0.9"/>
<path d="M1382.80,914.70 L1384.60,920.70 L1386.40,914.70" fill="none" stroke="#1d1d1b" stroke-width="0.9"/>
<g transform="translate(1359.04,857.96)"><text x="0.00" y="0" font-size="45" fill="#2b2a29">88</text></g>
<line x1="1426.40" y1="851.70" x2="1619.40" y2="851.70" stroke="#1d1d1b" stroke-width="0.9" />
<path d="M1432.40,849.90 L1426.40,851.70 L1432.40,853.50" fill="none" stroke="#1d1d1b" stroke-width="0.9"/>
<path d="M1474.70,853.50 L1480.70,851.70 L1474.70,849.90" fill="none" stroke="#1d1d1b" stroke-width="0.9"/>
<g transform="translate(1535.44,886.86)"><text x="0.00" y="0" font-size="45" fill="#2b2a29">&#216;32</text></g>
<path d="M215.2,1500.4 A53.3,53.3 0 1 1 256.9,1501" fill="none" stroke="#1d1d1b" stroke-width="1.6" />
<path d="M215.2,1540.2 L215.2,1452.4 A21.1,21.1 0 0 1 257.5,1452.4 L257.5,1540.2" fill="none" stroke="#1d1d1b" stroke-width="1.5" />
<path d="M215.2,1508.6 Q236.4,1507.4 257.5,1508.6" fill="none" stroke="#1d1d1b" stroke-width="1.0" />
<line x1="215.20" y1="1540.20" x2="257.50" y2="1540.20" stroke="#1d1d1b" stroke-width="2.4" />
<line x1="192.60" y1="1497.40" x2="339.60" y2="1345.00" stroke="#1d1d1b" stroke-width="1.0" />
<path d="M199.60,1490.10 L203.16,1483.81 L205.75,1486.31 Z" fill="#1d1d1b" stroke="none"/>
<path d="M273.60,1413.50 L270.04,1419.79 L267.45,1417.29 Z" fill="#1d1d1b" stroke="none"/>
<text x="0" y="0" font-size="45" fill="#2b2a29" transform="translate(268.91,1404.55) rotate(-46.06)">&#216;72</text>
<rect x="383.70" y="1400.00" width="14.30" height="105.60" fill="none" stroke="#1d1d1b" stroke-width="1.5" rx="0"/>
<rect x="352.00" y="1436.60" width="31.70" height="30.60" fill="#161616" stroke="#1d1d1b" stroke-width="0.8" rx="0"/>
<line x1="355.17" y1="1437.50" x2="355.17" y2="1466.50" stroke="#5a5a5a" stroke-width="0.5" />
<line x1="358.34" y1="1437.50" x2="358.34" y2="1466.50" stroke="#5a5a5a" stroke-width="0.5" />
<line x1="361.51" y1="1437.50" x2="361.51" y2="1466.50" stroke="#5a5a5a" stroke-width="0.5" />
<line x1="364.68" y1="1437.50" x2="364.68" y2="1466.50" stroke="#5a5a5a" stroke-width="0.5" />
<line x1="367.85" y1="1437.50" x2="367.85" y2="1466.50" stroke="#5a5a5a" stroke-width="0.5" />
<line x1="371.02" y1="1437.50" x2="371.02" y2="1466.50" stroke="#5a5a5a" stroke-width="0.5" />
<line x1="374.19" y1="1437.50" x2="374.19" y2="1466.50" stroke="#5a5a5a" stroke-width="0.5" />
<line x1="377.36" y1="1437.50" x2="377.36" y2="1466.50" stroke="#5a5a5a" stroke-width="0.5" />
<line x1="380.53" y1="1437.50" x2="380.53" y2="1466.50" stroke="#5a5a5a" stroke-width="0.5" />
<line x1="398.00" y1="1431.50" x2="634.40" y2="1431.50" stroke="#1d1d1b" stroke-width="1.3" />
<line x1="398.00" y1="1472.90" x2="634.40" y2="1472.90" stroke="#1d1d1b" stroke-width="1.3" />
<line x1="634.40" y1="1431.50" x2="634.40" y2="1472.90" stroke="#1d1d1b" stroke-width="1.1" />
<path d="M634.4,1431.5 A79.5,76.5 0 0 1 713.9,1508" fill="none" stroke="#1d1d1b" stroke-width="1.3" />
<path d="M634.4,1472.9 A38.1,37.2 0 0 1 672.5,1510.1" fill="none" stroke="#1d1d1b" stroke-width="1.3" />
<path d="M672.5,1510.1 L714.7,1508 L715.5,1539.9 L673.3,1541.6 Z" fill="none" stroke="#1d1d1b" stroke-width="1.4" />
<line x1="383.70" y1="1391.60" x2="383.70" y2="1400.00" stroke="#1d1d1b" stroke-width="0.9" />
<line x1="398.00" y1="1391.60" x2="398.00" y2="1400.00" stroke="#1d1d1b" stroke-width="0.9" />
<line x1="383.70" y1="1392.50" x2="468.30" y2="1392.50" stroke="#1d1d1b" stroke-width="0.9" />
<path d="M383.70,1392.50 L389.70,1390.90 L389.70,1394.10 Z" fill="#1d1d1b" stroke="none"/>
<path d="M398.00,1392.50 L392.00,1394.10 L392.00,1390.90 Z" fill="#1d1d1b" stroke="none"/>
<g transform="translate(403.60,1386.76)"><path d="M576,0 L760,0 L760,1409 L641,1409 Q585,1278 223,1067 L223,900 Q430,990 576,1096 Z" fill="#2b2a29" transform="translate(0.00,0) scale(0.02197,-0.02197)"/><text x="25.03" y="0" font-size="45" fill="#2b2a29">0</text></g>
<line x1="525.70" y1="1431.50" x2="525.70" y2="1472.90" stroke="#1d1d1b" stroke-width="1.0" />
<path d="M525.70,1431.50 L527.30,1438.50 L524.10,1438.50 Z" fill="#1d1d1b" stroke="none"/>
<path d="M525.70,1472.90 L524.10,1465.90 L527.30,1465.90 Z" fill="#1d1d1b" stroke="none"/>
<g transform="translate(489.44,1424.16)"><text x="0.00" y="0" font-size="45" fill="#2b2a29">&#216;28</text></g>
<line x1="383.70" y1="1505.60" x2="383.70" y2="1575.50" stroke="#1d1d1b" stroke-width="1.0" />
<line x1="694.40" y1="1540.80" x2="694.40" y2="1549.50" stroke="#1d1d1b" stroke-width="1.0" />
<line x1="383.70" y1="1549.00" x2="694.40" y2="1549.00" stroke="#1d1d1b" stroke-width="1.0" />
<path d="M383.70,1549.00 L391.70,1547.20 L391.70,1550.80 Z" fill="#1d1d1b" stroke="none"/>
<path d="M694.40,1549.00 L686.40,1550.80 L686.40,1547.20 Z" fill="#1d1d1b" stroke="none"/>
<g transform="translate(493.34,1542.76)"><text x="0.00" y="0" font-size="45" fill="#2b2a29">2</text><path d="M576,0 L760,0 L760,1409 L641,1409 Q585,1278 223,1067 L223,900 Q430,990 576,1096 Z" fill="#2b2a29" transform="translate(25.03,0) scale(0.02197,-0.02197)"/><text x="50.05" y="0" font-size="45" fill="#2b2a29">0</text></g>
<line x1="715.50" y1="1539.90" x2="715.50" y2="1575.50" stroke="#1d1d1b" stroke-width="1.0" />
<line x1="383.70" y1="1574.70" x2="715.50" y2="1574.70" stroke="#1d1d1b" stroke-width="1.0" />
<path d="M383.70,1574.70 L391.70,1572.90 L391.70,1576.50 Z" fill="#1d1d1b" stroke="none"/>
<path d="M715.50,1574.70 L707.50,1576.50 L707.50,1572.90 Z" fill="#1d1d1b" stroke="none"/>
<g transform="translate(507.44,1609.20)"><text x="0.00" y="0" font-size="45" fill="#2b2a29">224</text></g>
<rect x="383.40" y="1621.40" width="14.90" height="107.00" fill="none" stroke="#1d1d1b" stroke-width="1.5" rx="0"/>
<rect x="352.40" y="1659.30" width="31.40" height="31.00" fill="#161616" stroke="#1d1d1b" stroke-width="0.8" rx="0"/>
<line x1="355.54" y1="1660.00" x2="355.54" y2="1689.50" stroke="#5a5a5a" stroke-width="0.5" />
<line x1="358.68" y1="1660.00" x2="358.68" y2="1689.50" stroke="#5a5a5a" stroke-width="0.5" />
<line x1="361.82" y1="1660.00" x2="361.82" y2="1689.50" stroke="#5a5a5a" stroke-width="0.5" />
<line x1="364.96" y1="1660.00" x2="364.96" y2="1689.50" stroke="#5a5a5a" stroke-width="0.5" />
<line x1="368.10" y1="1660.00" x2="368.10" y2="1689.50" stroke="#5a5a5a" stroke-width="0.5" />
<line x1="371.24" y1="1660.00" x2="371.24" y2="1689.50" stroke="#5a5a5a" stroke-width="0.5" />
<line x1="374.38" y1="1660.00" x2="374.38" y2="1689.50" stroke="#5a5a5a" stroke-width="0.5" />
<line x1="377.52" y1="1660.00" x2="377.52" y2="1689.50" stroke="#5a5a5a" stroke-width="0.5" />
<line x1="380.66" y1="1660.00" x2="380.66" y2="1689.50" stroke="#5a5a5a" stroke-width="0.5" />
<line x1="398.30" y1="1653.90" x2="694.40" y2="1653.90" stroke="#1d1d1b" stroke-width="1.3" />
<line x1="398.30" y1="1695.30" x2="694.40" y2="1695.30" stroke="#1d1d1b" stroke-width="1.3" />
<line x1="634.30" y1="1653.90" x2="634.30" y2="1695.30" stroke="#1d1d1b" stroke-width="1.0" />
<path d="M694.4,1653.9 A21.1,20.7 0 0 1 694.4,1695.3" fill="none" stroke="#1d1d1b" stroke-width="1.3" />
<line x1="352.40" y1="1690.30" x2="352.40" y2="1737.50" stroke="#1d1d1b" stroke-width="1.0" />
<line x1="715.50" y1="1674.60" x2="715.50" y2="1737.50" stroke="#1d1d1b" stroke-width="1.0" />
<line x1="352.40" y1="1736.70" x2="715.50" y2="1736.70" stroke="#1d1d1b" stroke-width="1.0" />
<path d="M352.40,1736.70 L359.40,1735.10 L359.40,1738.30 Z" fill="#1d1d1b" stroke="none"/>
<path d="M715.50,1736.70 L708.50,1738.30 L708.50,1735.10 Z" fill="#1d1d1b" stroke="none"/>
<g transform="translate(498.54,1775.16)"><text x="0.00" y="0" font-size="45" fill="#2b2a29">245</text></g>
<line x1="335.00" y1="1659.30" x2="352.40" y2="1659.30" stroke="#1d1d1b" stroke-width="0.9" />
<line x1="335.00" y1="1690.30" x2="352.40" y2="1690.30" stroke="#1d1d1b" stroke-width="0.9" />
<line x1="336.20" y1="1659.30" x2="336.20" y2="1728.40" stroke="#1d1d1b" stroke-width="0.9" />
<line x1="259.00" y1="1728.40" x2="336.20" y2="1728.40" stroke="#1d1d1b" stroke-width="0.9" />
<path d="M337.60,1664.30 L336.20,1659.30 L334.80,1664.30" fill="none" stroke="#1d1d1b" stroke-width="0.9"/>
<path d="M334.80,1685.30 L336.20,1690.30 L337.60,1685.30" fill="none" stroke="#1d1d1b" stroke-width="0.9"/>
<g transform="translate(232.74,1721.36)"><text x="0.00" y="0" font-size="45" fill="#2b2a29">G</text><path d="M576,0 L760,0 L760,1409 L641,1409 Q585,1278 223,1067 L223,900 Q430,990 576,1096 Z" fill="#2b2a29" transform="translate(35.00,0) scale(0.02197,-0.02197)"/><text x="60.03" y="0" font-size="45" fill="#2b2a29">/2</text></g>
<g transform="translate(1040.04,1404.76)"><text x="0.00" y="0" font-size="45" fill="#2b2a29">G</text><path d="M576,0 L760,0 L760,1409 L641,1409 Q585,1278 223,1067 L223,900 Q430,990 576,1096 Z" fill="#2b2a29" transform="translate(35.00,0) scale(0.02197,-0.02197)"/><text x="60.03" y="0" font-size="45" fill="#2b2a29">/2</text></g>
<line x1="1072.30" y1="1412.80" x2="1072.30" y2="1432.00" stroke="#1d1d1b" stroke-width="1.0" />
<line x1="1108.60" y1="1412.80" x2="1108.60" y2="1432.00" stroke="#1d1d1b" stroke-width="1.0" />
<line x1="1072.30" y1="1415.70" x2="1108.60" y2="1415.70" stroke="#1d1d1b" stroke-width="1.0" />
<path d="M1078.30,1414.10 L1072.30,1415.70 L1078.30,1417.30" fill="none" stroke="#1d1d1b" stroke-width="0.9"/>
<path d="M1102.60,1417.30 L1108.60,1415.70 L1102.60,1414.10" fill="none" stroke="#1d1d1b" stroke-width="0.9"/>
<path d="M1072.3,1434 L1108.6,1434 L1106.4,1490.7 L1075.2,1490.7 Z" fill="none" stroke="#1d1d1b" stroke-width="1.4" />
<path d="M1077.9,1490.7 L1077.9,1551.2 M1103.5,1490.7 L1103.5,1551.2 M1077.9,1557.5 L1077.9,1646 M1103.5,1557.5 L1103.5,1646" fill="none" stroke="#1d1d1b" stroke-width="1.4" />
<path d="M1077,1551.4 Q1082,1549 1087,1551 Q1091,1552.5 1093,1549 Q1096,1546 1099,1550 Q1101,1552 1104.5,1551" fill="none" stroke="#1d1d1b" stroke-width="1.0" />
<path d="M1077,1557.6 Q1082,1555.2 1087,1557.2 Q1091,1558.7 1093,1555.2 Q1096,1552.2 1099,1556.2 Q1101,1558.2 1104.5,1557.2" fill="none" stroke="#1d1d1b" stroke-width="1.0" />
<path d="M1075.2,1646 L1106.4,1646 L1108.6,1702.8 L1072.3,1702.8 Z" fill="none" stroke="#1d1d1b" stroke-width="1.4" />
<line x1="1090.80" y1="1425.70" x2="1090.80" y2="1708.30" stroke="#1d1d1b" stroke-width="0.9" stroke-dasharray="6,2.5"/>
<line x1="1108.60" y1="1434.00" x2="1126.40" y2="1434.00" stroke="#1d1d1b" stroke-width="1.0" />
<line x1="1108.60" y1="1702.80" x2="1126.40" y2="1702.80" stroke="#1d1d1b" stroke-width="1.0" />
<line x1="1124.60" y1="1434.00" x2="1124.60" y2="1702.80" stroke="#1d1d1b" stroke-width="1.0" />
<path d="M1126.40,1442.00 L1124.60,1434.00 L1122.80,1442.00" fill="none" stroke="#1d1d1b" stroke-width="0.9"/>
<path d="M1122.80,1694.80 L1124.60,1702.80 L1126.40,1694.80" fill="none" stroke="#1d1d1b" stroke-width="0.9"/>
<g transform="translate(1160.42,1617.50) rotate(-90)"><path d="M576,0 L760,0 L760,1409 L641,1409 Q585,1278 223,1067 L223,900 Q430,990 576,1096 Z" fill="#2b2a29" transform="translate(0.00,0) scale(0.02197,-0.02197)"/><text x="25.03" y="0" font-size="45" fill="#2b2a29">500</text></g>
<line x1="1072.30" y1="1704.00" x2="1072.30" y2="1722.50" stroke="#1d1d1b" stroke-width="1.0" />
<line x1="1108.60" y1="1704.00" x2="1108.60" y2="1722.50" stroke="#1d1d1b" stroke-width="1.0" />
<line x1="1072.30" y1="1719.50" x2="1108.60" y2="1719.50" stroke="#1d1d1b" stroke-width="1.0" />
<path d="M1078.30,1717.90 L1072.30,1719.50 L1078.30,1721.10" fill="none" stroke="#1d1d1b" stroke-width="0.9"/>
<path d="M1102.60,1721.10 L1108.60,1719.50 L1102.60,1717.90" fill="none" stroke="#1d1d1b" stroke-width="0.9"/>
<g transform="translate(1040.04,1760.16)"><text x="0.00" y="0" font-size="45" fill="#2b2a29">G</text><path d="M576,0 L760,0 L760,1409 L641,1409 Q585,1278 223,1067 L223,900 Q430,990 576,1096 Z" fill="#2b2a29" transform="translate(35.00,0) scale(0.02197,-0.02197)"/><text x="60.03" y="0" font-size="45" fill="#2b2a29">/2</text></g>
<path d="M1486.24,1479.52 A109.5,109.5 0 1 1 1636.16,1479.52" fill="none" stroke="#1d1d1b" stroke-width="1.5" />
<path d="M1489.70,1480.51 A107.9,107.9 0 1 1 1632.70,1480.51" fill="none" stroke="#1d1d1b" stroke-width="0.8" />
<path d="M1501.03,1485.63 A104.9,104.9 0 1 1 1621.37,1485.63" fill="none" stroke="#1d1d1b" stroke-width="1.3" />
<path d="M1486.24,1479.52 Q1530,1508 1533.3,1551 L1538,1624.9" fill="none" stroke="#1d1d1b" stroke-width="1.6" />
<path d="M1636.16,1479.52 Q1592.4,1508 1589.1,1551 L1584.4,1624.9" fill="none" stroke="#1d1d1b" stroke-width="1.6" />
<path d="M1487.5,1478.3 Q1515,1495 1527.4,1503.3" fill="none" stroke="#1d1d1b" stroke-width="0.8" />
<path d="M1636.3,1478.3 Q1608.8,1495 1596.4,1503.3" fill="none" stroke="#1d1d1b" stroke-width="0.8" />
<path d="M1501.03,1485.63 L1527.4,1503.3 M1621.37,1485.63 L1596.4,1503.3" fill="none" stroke="#1d1d1b" stroke-width="1.3" />
<circle cx="1561.80" cy="1400.50" r="91.40" fill="none" stroke="#1d1d1b" stroke-width="0.9"/>
<path d="M1498.8,1481.9 Q1561.9,1510 1624.6,1481.9" fill="none" stroke="#1d1d1b" stroke-width="1.0" />
<line x1="1506.00" y1="1473.60" x2="1498.80" y2="1483.50" stroke="#1d1d1b" stroke-width="0.9" />
<line x1="1617.80" y1="1473.60" x2="1625.00" y2="1483.50" stroke="#1d1d1b" stroke-width="0.9" />
<line x1="1529.80" y1="1486.70" x2="1529.80" y2="1491.00" stroke="#1d1d1b" stroke-width="0.8" />
<path d="M1527.4,1503.3 C1535,1512 1538,1522 1539.5,1531 C1542,1542 1550,1546.5 1561.9,1546.5 C1574,1546.5 1582,1542 1584.3,1531 C1586,1522 1589,1512 1596.4,1503.3 L1588.1,1496.8 Q1561.9,1513 1535.7,1496.8 Z" fill="none" stroke="#1d1d1b" stroke-width="2.2" />
<path d="M1527.4,1503.3 Q1561.9,1524 1596.4,1503.3" fill="none" stroke="#1d1d1b" stroke-width="1.0" />
<path d="M1546.4,1545 Q1561.9,1551 1577.4,1545" fill="none" stroke="#1d1d1b" stroke-width="0.7" />
<line x1="1522.00" y1="1505.50" x2="1520.00" y2="1511.00" stroke="#1d1d1b" stroke-width="0.7" />
<line x1="1601.80" y1="1505.50" x2="1603.80" y2="1511.00" stroke="#1d1d1b" stroke-width="0.7" />
<line x1="1532.00" y1="1532.00" x2="1538.50" y2="1531.30" stroke="#1d1d1b" stroke-width="0.8" />
<line x1="1591.80" y1="1532.00" x2="1585.30" y2="1531.30" stroke="#1d1d1b" stroke-width="0.8" />
<text x="1561.9" y="1529.6" font-size="11" font-weight="bold" fill="#3a3a3a" text-anchor="middle" textLength="31" lengthAdjust="spacingAndGlyphs">SELECT</text>
<path d="M1534,1553.8 Q1561.9,1547 1589.8,1553.8" fill="none" stroke="#1d1d1b" stroke-width="1.3" />
<line x1="1561.40" y1="1489.60" x2="1561.40" y2="1690.00" stroke="#1d1d1b" stroke-width="1.0" />
<circle cx="1529.28" cy="1316.72" r="3.20" fill="#1d1d1b" stroke="#1d1d1b" stroke-width="0"/>
<circle cx="1545.24" cy="1316.72" r="3.20" fill="#1d1d1b" stroke="#1d1d1b" stroke-width="0"/>
<circle cx="1561.20" cy="1316.72" r="3.20" fill="#1d1d1b" stroke="#1d1d1b" stroke-width="0"/>
<circle cx="1577.16" cy="1316.72" r="3.20" fill="#1d1d1b" stroke="#1d1d1b" stroke-width="0"/>
<circle cx="1593.12" cy="1316.72" r="3.20" fill="#1d1d1b" stroke="#1d1d1b" stroke-width="0"/>
<circle cx="1505.34" cy="1330.55" r="3.20" fill="#1d1d1b" stroke="#1d1d1b" stroke-width="0"/>
<circle cx="1521.30" cy="1330.55" r="4.70" fill="#9a9a9a" stroke="#444" stroke-width="1.0"/>
<circle cx="1521.30" cy="1330.55" r="2.60" fill="#e0e0e0" stroke="#333" stroke-width="0.9"/>
<circle cx="1521.30" cy="1330.55" r="1.00" fill="none" stroke="#333" stroke-width="0.7"/>
<circle cx="1537.26" cy="1330.55" r="3.20" fill="#1d1d1b" stroke="#1d1d1b" stroke-width="0"/>
<circle cx="1553.22" cy="1330.55" r="3.20" fill="#1d1d1b" stroke="#1d1d1b" stroke-width="0"/>
<circle cx="1569.18" cy="1330.55" r="3.20" fill="#1d1d1b" stroke="#1d1d1b" stroke-width="0"/>
<circle cx="1585.14" cy="1330.55" r="3.20" fill="#1d1d1b" stroke="#1d1d1b" stroke-width="0"/>
<circle cx="1601.10" cy="1330.55" r="4.70" fill="#9a9a9a" stroke="#444" stroke-width="1.0"/>
<circle cx="1601.10" cy="1330.55" r="2.60" fill="#e0e0e0" stroke="#333" stroke-width="0.9"/>
<circle cx="1601.10" cy="1330.55" r="1.00" fill="none" stroke="#333" stroke-width="0.7"/>
<circle cx="1617.06" cy="1330.55" r="3.20" fill="#1d1d1b" stroke="#1d1d1b" stroke-width="0"/>
<circle cx="1497.36" cy="1344.38" r="3.20" fill="#1d1d1b" stroke="#1d1d1b" stroke-width="0"/>
<circle cx="1513.32" cy="1344.38" r="3.20" fill="#1d1d1b" stroke="#1d1d1b" stroke-width="0"/>
<circle cx="1529.28" cy="1344.38" r="3.20" fill="#1d1d1b" stroke="#1d1d1b" stroke-width="0"/>
<circle cx="1545.24" cy="1344.38" r="3.60" fill="#1d1d1b" stroke="#1d1d1b" stroke-width="0"/>
<circle cx="1545.24" cy="1344.38" r="1.70" fill="#fff" stroke="#1d1d1b" stroke-width="0"/>
<circle cx="1545.24" cy="1344.38" r="0.80" fill="#333" stroke="#1d1d1b" stroke-width="0"/>
<circle cx="1561.20" cy="1344.38" r="3.60" fill="#1d1d1b" stroke="#1d1d1b" stroke-width="0"/>
<circle cx="1561.20" cy="1344.38" r="1.70" fill="#fff" stroke="#1d1d1b" stroke-width="0"/>
<circle cx="1561.20" cy="1344.38" r="0.80" fill="#333" stroke="#1d1d1b" stroke-width="0"/>
<circle cx="1577.16" cy="1344.38" r="3.60" fill="#1d1d1b" stroke="#1d1d1b" stroke-width="0"/>
<circle cx="1577.16" cy="1344.38" r="1.70" fill="#fff" stroke="#1d1d1b" stroke-width="0"/>
<circle cx="1577.16" cy="1344.38" r="0.80" fill="#333" stroke="#1d1d1b" stroke-width="0"/>
<circle cx="1593.12" cy="1344.38" r="3.20" fill="#1d1d1b" stroke="#1d1d1b" stroke-width="0"/>
<circle cx="1609.08" cy="1344.38" r="3.20" fill="#1d1d1b" stroke="#1d1d1b" stroke-width="0"/>
<circle cx="1625.04" cy="1344.38" r="3.20" fill="#1d1d1b" stroke="#1d1d1b" stroke-width="0"/>
<circle cx="1489.38" cy="1358.21" r="3.20" fill="#1d1d1b" stroke="#1d1d1b" stroke-width="0"/>
<circle cx="1505.34" cy="1358.21" r="3.20" fill="#1d1d1b" stroke="#1d1d1b" stroke-width="0"/>
<circle cx="1521.30" cy="1358.21" r="3.60" fill="#1d1d1b" stroke="#1d1d1b" stroke-width="0"/>
<circle cx="1521.30" cy="1358.21" r="1.70" fill="#fff" stroke="#1d1d1b" stroke-width="0"/>
<circle cx="1521.30" cy="1358.21" r="0.80" fill="#333" stroke="#1d1d1b" stroke-width="0"/>
<circle cx="1537.26" cy="1358.21" r="3.60" fill="#1d1d1b" stroke="#1d1d1b" stroke-width="0"/>
<circle cx="1537.26" cy="1358.21" r="1.70" fill="#fff" stroke="#1d1d1b" stroke-width="0"/>
<circle cx="1537.26" cy="1358.21" r="0.80" fill="#333" stroke="#1d1d1b" stroke-width="0"/>
<circle cx="1553.22" cy="1358.21" r="3.60" fill="#1d1d1b" stroke="#1d1d1b" stroke-width="0"/>
<circle cx="1553.22" cy="1358.21" r="1.70" fill="#fff" stroke="#1d1d1b" stroke-width="0"/>
<circle cx="1553.22" cy="1358.21" r="0.80" fill="#333" stroke="#1d1d1b" stroke-width="0"/>
<circle cx="1569.18" cy="1358.21" r="3.60" fill="#1d1d1b" stroke="#1d1d1b" stroke-width="0"/>
<circle cx="1569.18" cy="1358.21" r="1.70" fill="#fff" stroke="#1d1d1b" stroke-width="0"/>
<circle cx="1569.18" cy="1358.21" r="0.80" fill="#333" stroke="#1d1d1b" stroke-width="0"/>
<circle cx="1585.14" cy="1358.21" r="3.60" fill="#1d1d1b" stroke="#1d1d1b" stroke-width="0"/>
<circle cx="1585.14" cy="1358.21" r="1.70" fill="#fff" stroke="#1d1d1b" stroke-width="0"/>
<circle cx="1585.14" cy="1358.21" r="0.80" fill="#333" stroke="#1d1d1b" stroke-width="0"/>
<circle cx="1601.10" cy="1358.21" r="3.60" fill="#1d1d1b" stroke="#1d1d1b" stroke-width="0"/>
<circle cx="1601.10" cy="1358.21" r="1.70" fill="#fff" stroke="#1d1d1b" stroke-width="0"/>
<circle cx="1601.10" cy="1358.21" r="0.80" fill="#333" stroke="#1d1d1b" stroke-width="0"/>
<circle cx="1617.06" cy="1358.21" r="3.20" fill="#1d1d1b" stroke="#1d1d1b" stroke-width="0"/>
<circle cx="1633.02" cy="1358.21" r="3.20" fill="#1d1d1b" stroke="#1d1d1b" stroke-width="0"/>
<circle cx="1481.40" cy="1372.04" r="3.20" fill="#1d1d1b" stroke="#1d1d1b" stroke-width="0"/>
<circle cx="1497.36" cy="1372.04" r="3.20" fill="#1d1d1b" stroke="#1d1d1b" stroke-width="0"/>
<circle cx="1513.32" cy="1372.04" r="3.60" fill="#1d1d1b" stroke="#1d1d1b" stroke-width="0"/>
<circle cx="1513.32" cy="1372.04" r="1.70" fill="#fff" stroke="#1d1d1b" stroke-width="0"/>
<circle cx="1513.32" cy="1372.04" r="0.80" fill="#333" stroke="#1d1d1b" stroke-width="0"/>
<circle cx="1529.28" cy="1372.04" r="3.60" fill="#1d1d1b" stroke="#1d1d1b" stroke-width="0"/>
<circle cx="1529.28" cy="1372.04" r="1.70" fill="#fff" stroke="#1d1d1b" stroke-width="0"/>
<circle cx="1529.28" cy="1372.04" r="0.80" fill="#333" stroke="#1d1d1b" stroke-width="0"/>
<circle cx="1545.24" cy="1372.04" r="3.60" fill="#1d1d1b" stroke="#1d1d1b" stroke-width="0"/>
<circle cx="1545.24" cy="1372.04" r="1.70" fill="#fff" stroke="#1d1d1b" stroke-width="0"/>
<circle cx="1545.24" cy="1372.04" r="0.80" fill="#333" stroke="#1d1d1b" stroke-width="0"/>
<circle cx="1561.20" cy="1372.04" r="3.60" fill="#1d1d1b" stroke="#1d1d1b" stroke-width="0"/>
<circle cx="1561.20" cy="1372.04" r="1.70" fill="#fff" stroke="#1d1d1b" stroke-width="0"/>
<circle cx="1561.20" cy="1372.04" r="0.80" fill="#333" stroke="#1d1d1b" stroke-width="0"/>
<circle cx="1577.16" cy="1372.04" r="3.60" fill="#1d1d1b" stroke="#1d1d1b" stroke-width="0"/>
<circle cx="1577.16" cy="1372.04" r="1.70" fill="#fff" stroke="#1d1d1b" stroke-width="0"/>
<circle cx="1577.16" cy="1372.04" r="0.80" fill="#333" stroke="#1d1d1b" stroke-width="0"/>
<circle cx="1593.12" cy="1372.04" r="3.60" fill="#1d1d1b" stroke="#1d1d1b" stroke-width="0"/>
<circle cx="1593.12" cy="1372.04" r="1.70" fill="#fff" stroke="#1d1d1b" stroke-width="0"/>
<circle cx="1593.12" cy="1372.04" r="0.80" fill="#333" stroke="#1d1d1b" stroke-width="0"/>
<circle cx="1609.08" cy="1372.04" r="3.60" fill="#1d1d1b" stroke="#1d1d1b" stroke-width="0"/>
<circle cx="1609.08" cy="1372.04" r="1.70" fill="#fff" stroke="#1d1d1b" stroke-width="0"/>
<circle cx="1609.08" cy="1372.04" r="0.80" fill="#333" stroke="#1d1d1b" stroke-width="0"/>
<circle cx="1625.04" cy="1372.04" r="3.20" fill="#1d1d1b" stroke="#1d1d1b" stroke-width="0"/>
<circle cx="1641.00" cy="1372.04" r="3.20" fill="#1d1d1b" stroke="#1d1d1b" stroke-width="0"/>
<circle cx="1473.42" cy="1385.87" r="3.20" fill="#1d1d1b" stroke="#1d1d1b" stroke-width="0"/>
<circle cx="1489.38" cy="1385.87" r="3.20" fill="#1d1d1b" stroke="#1d1d1b" stroke-width="0"/>
<circle cx="1505.34" cy="1385.87" r="3.60" fill="#1d1d1b" stroke="#1d1d1b" stroke-width="0"/>
<circle cx="1505.34" cy="1385.87" r="1.70" fill="#fff" stroke="#1d1d1b" stroke-width="0"/>
<circle cx="1505.34" cy="1385.87" r="0.80" fill="#333" stroke="#1d1d1b" stroke-width="0"/>
<circle cx="1521.30" cy="1385.87" r="3.60" fill="#1d1d1b" stroke="#1d1d1b" stroke-width="0"/>
<circle cx="1521.30" cy="1385.87" r="1.70" fill="#fff" stroke="#1d1d1b" stroke-width="0"/>
<circle cx="1521.30" cy="1385.87" r="0.80" fill="#333" stroke="#1d1d1b" stroke-width="0"/>
<circle cx="1537.26" cy="1385.87" r="3.60" fill="#1d1d1b" stroke="#1d1d1b" stroke-width="0"/>
<circle cx="1537.26" cy="1385.87" r="1.70" fill="#fff" stroke="#1d1d1b" stroke-width="0"/>
<circle cx="1537.26" cy="1385.87" r="0.80" fill="#333" stroke="#1d1d1b" stroke-width="0"/>
<circle cx="1585.14" cy="1385.87" r="3.60" fill="#1d1d1b" stroke="#1d1d1b" stroke-width="0"/>
<circle cx="1585.14" cy="1385.87" r="1.70" fill="#fff" stroke="#1d1d1b" stroke-width="0"/>
<circle cx="1585.14" cy="1385.87" r="0.80" fill="#333" stroke="#1d1d1b" stroke-width="0"/>
<circle cx="1601.10" cy="1385.87" r="3.60" fill="#1d1d1b" stroke="#1d1d1b" stroke-width="0"/>
<circle cx="1601.10" cy="1385.87" r="1.70" fill="#fff" stroke="#1d1d1b" stroke-width="0"/>
<circle cx="1601.10" cy="1385.87" r="0.80" fill="#333" stroke="#1d1d1b" stroke-width="0"/>
<circle cx="1617.06" cy="1385.87" r="3.60" fill="#1d1d1b" stroke="#1d1d1b" stroke-width="0"/>
<circle cx="1617.06" cy="1385.87" r="1.70" fill="#fff" stroke="#1d1d1b" stroke-width="0"/>
<circle cx="1617.06" cy="1385.87" r="0.80" fill="#333" stroke="#1d1d1b" stroke-width="0"/>
<circle cx="1633.02" cy="1385.87" r="3.20" fill="#1d1d1b" stroke="#1d1d1b" stroke-width="0"/>
<circle cx="1648.98" cy="1385.87" r="3.20" fill="#1d1d1b" stroke="#1d1d1b" stroke-width="0"/>
<circle cx="1481.40" cy="1399.70" r="4.70" fill="#9a9a9a" stroke="#444" stroke-width="1.0"/>
<circle cx="1481.40" cy="1399.70" r="2.60" fill="#e0e0e0" stroke="#333" stroke-width="0.9"/>
<circle cx="1481.40" cy="1399.70" r="1.00" fill="none" stroke="#333" stroke-width="0.7"/>
<circle cx="1497.36" cy="1399.70" r="3.20" fill="#1d1d1b" stroke="#1d1d1b" stroke-width="0"/>
<circle cx="1513.32" cy="1399.70" r="3.60" fill="#1d1d1b" stroke="#1d1d1b" stroke-width="0"/>
<circle cx="1513.32" cy="1399.70" r="1.70" fill="#fff" stroke="#1d1d1b" stroke-width="0"/>
<circle cx="1513.32" cy="1399.70" r="0.80" fill="#333" stroke="#1d1d1b" stroke-width="0"/>
<circle cx="1529.28" cy="1399.70" r="3.60" fill="#1d1d1b" stroke="#1d1d1b" stroke-width="0"/>
<circle cx="1529.28" cy="1399.70" r="1.70" fill="#fff" stroke="#1d1d1b" stroke-width="0"/>
<circle cx="1529.28" cy="1399.70" r="0.80" fill="#333" stroke="#1d1d1b" stroke-width="0"/>
<circle cx="1593.12" cy="1399.70" r="3.60" fill="#1d1d1b" stroke="#1d1d1b" stroke-width="0"/>
<circle cx="1593.12" cy="1399.70" r="1.70" fill="#fff" stroke="#1d1d1b" stroke-width="0"/>
<circle cx="1593.12" cy="1399.70" r="0.80" fill="#333" stroke="#1d1d1b" stroke-width="0"/>
<circle cx="1609.08" cy="1399.70" r="3.60" fill="#1d1d1b" stroke="#1d1d1b" stroke-width="0"/>
<circle cx="1609.08" cy="1399.70" r="1.70" fill="#fff" stroke="#1d1d1b" stroke-width="0"/>
<circle cx="1609.08" cy="1399.70" r="0.80" fill="#333" stroke="#1d1d1b" stroke-width="0"/>
<circle cx="1625.04" cy="1399.70" r="3.20" fill="#1d1d1b" stroke="#1d1d1b" stroke-width="0"/>
<circle cx="1641.00" cy="1399.70" r="4.70" fill="#9a9a9a" stroke="#444" stroke-width="1.0"/>
<circle cx="1641.00" cy="1399.70" r="2.60" fill="#e0e0e0" stroke="#333" stroke-width="0.9"/>
<circle cx="1641.00" cy="1399.70" r="1.00" fill="none" stroke="#333" stroke-width="0.7"/>
<circle cx="1473.42" cy="1413.53" r="3.20" fill="#1d1d1b" stroke="#1d1d1b" stroke-width="0"/>
<circle cx="1489.38" cy="1413.53" r="3.20" fill="#1d1d1b" stroke="#1d1d1b" stroke-width="0"/>
<circle cx="1505.34" cy="1413.53" r="3.60" fill="#1d1d1b" stroke="#1d1d1b" stroke-width="0"/>
<circle cx="1505.34" cy="1413.53" r="1.70" fill="#fff" stroke="#1d1d1b" stroke-width="0"/>
<circle cx="1505.34" cy="1413.53" r="0.80" fill="#333" stroke="#1d1d1b" stroke-width="0"/>
<circle cx="1521.30" cy="1413.53" r="3.60" fill="#1d1d1b" stroke="#1d1d1b" stroke-width="0"/>
<circle cx="1521.30" cy="1413.53" r="1.70" fill="#fff" stroke="#1d1d1b" stroke-width="0"/>
<circle cx="1521.30" cy="1413.53" r="0.80" fill="#333" stroke="#1d1d1b" stroke-width="0"/>
<circle cx="1537.26" cy="1413.53" r="3.60" fill="#1d1d1b" stroke="#1d1d1b" stroke-width="0"/>
<circle cx="1537.26" cy="1413.53" r="1.70" fill="#fff" stroke="#1d1d1b" stroke-width="0"/>
<circle cx="1537.26" cy="1413.53" r="0.80" fill="#333" stroke="#1d1d1b" stroke-width="0"/>
<circle cx="1585.14" cy="1413.53" r="3.60" fill="#1d1d1b" stroke="#1d1d1b" stroke-width="0"/>
<circle cx="1585.14" cy="1413.53" r="1.70" fill="#fff" stroke="#1d1d1b" stroke-width="0"/>
<circle cx="1585.14" cy="1413.53" r="0.80" fill="#333" stroke="#1d1d1b" stroke-width="0"/>
<circle cx="1601.10" cy="1413.53" r="3.60" fill="#1d1d1b" stroke="#1d1d1b" stroke-width="0"/>
<circle cx="1601.10" cy="1413.53" r="1.70" fill="#fff" stroke="#1d1d1b" stroke-width="0"/>
<circle cx="1601.10" cy="1413.53" r="0.80" fill="#333" stroke="#1d1d1b" stroke-width="0"/>
<circle cx="1617.06" cy="1413.53" r="3.60" fill="#1d1d1b" stroke="#1d1d1b" stroke-width="0"/>
<circle cx="1617.06" cy="1413.53" r="1.70" fill="#fff" stroke="#1d1d1b" stroke-width="0"/>
<circle cx="1617.06" cy="1413.53" r="0.80" fill="#333" stroke="#1d1d1b" stroke-width="0"/>
<circle cx="1633.02" cy="1413.53" r="3.20" fill="#1d1d1b" stroke="#1d1d1b" stroke-width="0"/>
<circle cx="1648.98" cy="1413.53" r="3.20" fill="#1d1d1b" stroke="#1d1d1b" stroke-width="0"/>
<circle cx="1481.40" cy="1427.36" r="3.20" fill="#1d1d1b" stroke="#1d1d1b" stroke-width="0"/>
<circle cx="1497.36" cy="1427.36" r="3.20" fill="#1d1d1b" stroke="#1d1d1b" stroke-width="0"/>
<circle cx="1513.32" cy="1427.36" r="3.60" fill="#1d1d1b" stroke="#1d1d1b" stroke-width="0"/>
<circle cx="1513.32" cy="1427.36" r="1.70" fill="#fff" stroke="#1d1d1b" stroke-width="0"/>
<circle cx="1513.32" cy="1427.36" r="0.80" fill="#333" stroke="#1d1d1b" stroke-width="0"/>
<circle cx="1529.28" cy="1427.36" r="3.60" fill="#1d1d1b" stroke="#1d1d1b" stroke-width="0"/>
<circle cx="1529.28" cy="1427.36" r="1.70" fill="#fff" stroke="#1d1d1b" stroke-width="0"/>
<circle cx="1529.28" cy="1427.36" r="0.80" fill="#333" stroke="#1d1d1b" stroke-width="0"/>
<circle cx="1545.24" cy="1427.36" r="3.60" fill="#1d1d1b" stroke="#1d1d1b" stroke-width="0"/>
<circle cx="1545.24" cy="1427.36" r="1.70" fill="#fff" stroke="#1d1d1b" stroke-width="0"/>
<circle cx="1545.24" cy="1427.36" r="0.80" fill="#333" stroke="#1d1d1b" stroke-width="0"/>
<circle cx="1561.20" cy="1427.36" r="3.60" fill="#1d1d1b" stroke="#1d1d1b" stroke-width="0"/>
<circle cx="1561.20" cy="1427.36" r="1.70" fill="#fff" stroke="#1d1d1b" stroke-width="0"/>
<circle cx="1561.20" cy="1427.36" r="0.80" fill="#333" stroke="#1d1d1b" stroke-width="0"/>
<circle cx="1577.16" cy="1427.36" r="3.60" fill="#1d1d1b" stroke="#1d1d1b" stroke-width="0"/>
<circle cx="1577.16" cy="1427.36" r="1.70" fill="#fff" stroke="#1d1d1b" stroke-width="0"/>
<circle cx="1577.16" cy="1427.36" r="0.80" fill="#333" stroke="#1d1d1b" stroke-width="0"/>
<circle cx="1593.12" cy="1427.36" r="3.60" fill="#1d1d1b" stroke="#1d1d1b" stroke-width="0"/>
<circle cx="1593.12" cy="1427.36" r="1.70" fill="#fff" stroke="#1d1d1b" stroke-width="0"/>
<circle cx="1593.12" cy="1427.36" r="0.80" fill="#333" stroke="#1d1d1b" stroke-width="0"/>
<circle cx="1609.08" cy="1427.36" r="3.60" fill="#1d1d1b" stroke="#1d1d1b" stroke-width="0"/>
<circle cx="1609.08" cy="1427.36" r="1.70" fill="#fff" stroke="#1d1d1b" stroke-width="0"/>
<circle cx="1609.08" cy="1427.36" r="0.80" fill="#333" stroke="#1d1d1b" stroke-width="0"/>
<circle cx="1625.04" cy="1427.36" r="3.20" fill="#1d1d1b" stroke="#1d1d1b" stroke-width="0"/>
<circle cx="1641.00" cy="1427.36" r="3.20" fill="#1d1d1b" stroke="#1d1d1b" stroke-width="0"/>
<circle cx="1489.38" cy="1441.19" r="3.20" fill="#1d1d1b" stroke="#1d1d1b" stroke-width="0"/>
<circle cx="1505.34" cy="1441.19" r="3.20" fill="#1d1d1b" stroke="#1d1d1b" stroke-width="0"/>
<circle cx="1521.30" cy="1441.19" r="3.60" fill="#1d1d1b" stroke="#1d1d1b" stroke-width="0"/>
<circle cx="1521.30" cy="1441.19" r="1.70" fill="#fff" stroke="#1d1d1b" stroke-width="0"/>
<circle cx="1521.30" cy="1441.19" r="0.80" fill="#333" stroke="#1d1d1b" stroke-width="0"/>
<circle cx="1537.26" cy="1441.19" r="3.60" fill="#1d1d1b" stroke="#1d1d1b" stroke-width="0"/>
<circle cx="1537.26" cy="1441.19" r="1.70" fill="#fff" stroke="#1d1d1b" stroke-width="0"/>
<circle cx="1537.26" cy="1441.19" r="0.80" fill="#333" stroke="#1d1d1b" stroke-width="0"/>
<circle cx="1553.22" cy="1441.19" r="3.60" fill="#1d1d1b" stroke="#1d1d1b" stroke-width="0"/>
<circle cx="1553.22" cy="1441.19" r="1.70" fill="#fff" stroke="#1d1d1b" stroke-width="0"/>
<circle cx="1553.22" cy="1441.19" r="0.80" fill="#333" stroke="#1d1d1b" stroke-width="0"/>
<circle cx="1569.18" cy="1441.19" r="3.60" fill="#1d1d1b" stroke="#1d1d1b" stroke-width="0"/>
<circle cx="1569.18" cy="1441.19" r="1.70" fill="#fff" stroke="#1d1d1b" stroke-width="0"/>
<circle cx="1569.18" cy="1441.19" r="0.80" fill="#333" stroke="#1d1d1b" stroke-width="0"/>
<circle cx="1585.14" cy="1441.19" r="3.60" fill="#1d1d1b" stroke="#1d1d1b" stroke-width="0"/>
<circle cx="1585.14" cy="1441.19" r="1.70" fill="#fff" stroke="#1d1d1b" stroke-width="0"/>
<circle cx="1585.14" cy="1441.19" r="0.80" fill="#333" stroke="#1d1d1b" stroke-width="0"/>
<circle cx="1601.10" cy="1441.19" r="3.60" fill="#1d1d1b" stroke="#1d1d1b" stroke-width="0"/>
<circle cx="1601.10" cy="1441.19" r="1.70" fill="#fff" stroke="#1d1d1b" stroke-width="0"/>
<circle cx="1601.10" cy="1441.19" r="0.80" fill="#333" stroke="#1d1d1b" stroke-width="0"/>
<circle cx="1617.06" cy="1441.19" r="3.20" fill="#1d1d1b" stroke="#1d1d1b" stroke-width="0"/>
<circle cx="1633.02" cy="1441.19" r="3.20" fill="#1d1d1b" stroke="#1d1d1b" stroke-width="0"/>
<circle cx="1497.36" cy="1455.02" r="3.20" fill="#1d1d1b" stroke="#1d1d1b" stroke-width="0"/>
<circle cx="1513.32" cy="1455.02" r="3.20" fill="#1d1d1b" stroke="#1d1d1b" stroke-width="0"/>
<circle cx="1529.28" cy="1455.02" r="3.20" fill="#1d1d1b" stroke="#1d1d1b" stroke-width="0"/>
<circle cx="1545.24" cy="1455.02" r="3.60" fill="#1d1d1b" stroke="#1d1d1b" stroke-width="0"/>
<circle cx="1545.24" cy="1455.02" r="1.70" fill="#fff" stroke="#1d1d1b" stroke-width="0"/>
<circle cx="1545.24" cy="1455.02" r="0.80" fill="#333" stroke="#1d1d1b" stroke-width="0"/>
<circle cx="1561.20" cy="1455.02" r="3.60" fill="#1d1d1b" stroke="#1d1d1b" stroke-width="0"/>
<circle cx="1561.20" cy="1455.02" r="1.70" fill="#fff" stroke="#1d1d1b" stroke-width="0"/>
<circle cx="1561.20" cy="1455.02" r="0.80" fill="#333" stroke="#1d1d1b" stroke-width="0"/>
<circle cx="1577.16" cy="1455.02" r="3.60" fill="#1d1d1b" stroke="#1d1d1b" stroke-width="0"/>
<circle cx="1577.16" cy="1455.02" r="1.70" fill="#fff" stroke="#1d1d1b" stroke-width="0"/>
<circle cx="1577.16" cy="1455.02" r="0.80" fill="#333" stroke="#1d1d1b" stroke-width="0"/>
<circle cx="1593.12" cy="1455.02" r="3.20" fill="#1d1d1b" stroke="#1d1d1b" stroke-width="0"/>
<circle cx="1609.08" cy="1455.02" r="3.20" fill="#1d1d1b" stroke="#1d1d1b" stroke-width="0"/>
<circle cx="1625.04" cy="1455.02" r="3.20" fill="#1d1d1b" stroke="#1d1d1b" stroke-width="0"/>
<circle cx="1505.34" cy="1468.85" r="3.20" fill="#1d1d1b" stroke="#1d1d1b" stroke-width="0"/>
<circle cx="1521.30" cy="1468.85" r="4.70" fill="#9a9a9a" stroke="#444" stroke-width="1.0"/>
<circle cx="1521.30" cy="1468.85" r="2.60" fill="#e0e0e0" stroke="#333" stroke-width="0.9"/>
<circle cx="1521.30" cy="1468.85" r="1.00" fill="none" stroke="#333" stroke-width="0.7"/>
<circle cx="1537.26" cy="1468.85" r="3.20" fill="#1d1d1b" stroke="#1d1d1b" stroke-width="0"/>
<circle cx="1553.22" cy="1468.85" r="3.20" fill="#1d1d1b" stroke="#1d1d1b" stroke-width="0"/>
<circle cx="1569.18" cy="1468.85" r="3.20" fill="#1d1d1b" stroke="#1d1d1b" stroke-width="0"/>
<circle cx="1585.14" cy="1468.85" r="3.20" fill="#1d1d1b" stroke="#1d1d1b" stroke-width="0"/>
<circle cx="1601.10" cy="1468.85" r="4.70" fill="#9a9a9a" stroke="#444" stroke-width="1.0"/>
<circle cx="1601.10" cy="1468.85" r="2.60" fill="#e0e0e0" stroke="#333" stroke-width="0.9"/>
<circle cx="1601.10" cy="1468.85" r="1.00" fill="none" stroke="#333" stroke-width="0.7"/>
<circle cx="1617.06" cy="1468.85" r="3.20" fill="#1d1d1b" stroke="#1d1d1b" stroke-width="0"/>
<circle cx="1529.28" cy="1482.68" r="3.20" fill="#1d1d1b" stroke="#1d1d1b" stroke-width="0"/>
<circle cx="1545.24" cy="1482.68" r="3.20" fill="#1d1d1b" stroke="#1d1d1b" stroke-width="0"/>
<circle cx="1561.20" cy="1482.68" r="3.20" fill="#1d1d1b" stroke="#1d1d1b" stroke-width="0"/>
<circle cx="1577.16" cy="1482.68" r="3.20" fill="#1d1d1b" stroke="#1d1d1b" stroke-width="0"/>
<circle cx="1593.12" cy="1482.68" r="3.20" fill="#1d1d1b" stroke="#1d1d1b" stroke-width="0"/>
<circle cx="1561.20" cy="1399.70" r="16.00" fill="none" stroke="#1d1d1b" stroke-width="1.6"/>
<circle cx="1561.20" cy="1399.70" r="14.40" fill="none" stroke="#1d1d1b" stroke-width="0.8"/>
<circle cx="1561.20" cy="1399.70" r="9.80" fill="none" stroke="#1d1d1b" stroke-width="1.0"/>
<circle cx="1561.20" cy="1399.70" r="6.60" fill="none" stroke="#1d1d1b" stroke-width="0.9"/>
<circle cx="1561.20" cy="1399.70" r="4.60" fill="none" stroke="#1d1d1b" stroke-width="0.9"/>
<circle cx="1561.20" cy="1399.70" r="2.20" fill="none" stroke="#1d1d1b" stroke-width="1.2"/>
<rect x="1571.60" y="1395.20" width="3.20" height="9.00" fill="#555" stroke="#1d1d1b" stroke-width="1.0" rx="0"/>
<rect x="1547.60" y="1395.20" width="3.20" height="9.00" fill="#555" stroke="#1d1d1b" stroke-width="1.0" rx="0"/>
<rect x="1563.70" y="1388.01" width="7" height="2.6" fill="none" stroke="#1d1d1b" stroke-width="0.8" transform="rotate(30 1567.20 1389.31)"/>
<rect x="1551.70" y="1388.01" width="7" height="2.6" fill="none" stroke="#1d1d1b" stroke-width="0.8" transform="rotate(-30 1555.20 1389.31)"/>
<rect x="1563.70" y="1408.79" width="7" height="2.6" fill="none" stroke="#1d1d1b" stroke-width="0.8" transform="rotate(150 1567.20 1410.09)"/>
<rect x="1551.70" y="1408.79" width="7" height="2.6" fill="none" stroke="#1d1d1b" stroke-width="0.8" transform="rotate(210 1555.20 1410.09)"/>
<path d="M1538,1624.9 Q1562.1,1620 1586.2,1624.9" fill="none" stroke="#1d1d1b" stroke-width="1.1" />
<line x1="1536.50" y1="1625.60" x2="1537.30" y2="1685.40" stroke="#1d1d1b" stroke-width="1.7" />
<line x1="1586.20" y1="1625.60" x2="1585.40" y2="1685.40" stroke="#1d1d1b" stroke-width="1.7" />
<line x1="1546.60" y1="1624.00" x2="1550.10" y2="1677.70" stroke="#1d1d1b" stroke-width="0.9" />
<line x1="1576.90" y1="1624.00" x2="1573.00" y2="1677.70" stroke="#1d1d1b" stroke-width="0.9" />
<line x1="1538.80" y1="1646.60" x2="1542.70" y2="1677.70" stroke="#1d1d1b" stroke-width="0.8" />
<line x1="1584.60" y1="1646.60" x2="1580.70" y2="1677.70" stroke="#1d1d1b" stroke-width="0.8" />
<path d="M1537.3,1680 Q1537.3,1689.5 1542,1689.5 L1581,1689.5 Q1585.4,1689.5 1585.4,1680 Q1561.4,1675 1537.3,1680 Z" fill="none" stroke="#1d1d1b" stroke-width="1.6" />
<path d="M1544.3,1684 L1544.3,1700 Q1561.7,1709 1579.2,1700 L1579.2,1684" fill="none" stroke="#1d1d1b" stroke-width="1.4" />
<path d="M1544.8,1683.00 Q1561.7,1686.00 1578.7,1683.00" fill="none" stroke="#1d1d1b" stroke-width="1.1" />
<path d="M1544.8,1685.60 Q1561.7,1688.60 1578.7,1685.60" fill="none" stroke="#1d1d1b" stroke-width="1.1" />
<path d="M1544.8,1688.20 Q1561.7,1691.20 1578.7,1688.20" fill="none" stroke="#1d1d1b" stroke-width="1.1" />
<path d="M1544.8,1690.80 Q1561.7,1693.80 1578.7,1690.80" fill="none" stroke="#1d1d1b" stroke-width="1.1" />
<path d="M1544.8,1693.40 Q1561.7,1696.40 1578.7,1693.40" fill="none" stroke="#1d1d1b" stroke-width="1.1" />
<path d="M1544.8,1696.00 Q1561.7,1699.00 1578.7,1696.00" fill="none" stroke="#1d1d1b" stroke-width="1.1" />
<path d="M1544.8,1698.60 Q1561.7,1701.60 1578.7,1698.60" fill="none" stroke="#1d1d1b" stroke-width="1.1" />
<ellipse cx="1561.7" cy="1701.8" rx="10.8" ry="2.6" fill="#fff" stroke="#1d1d1b" stroke-width="1.0"/>
<path d="M1355.2,1304.1 L1453,1304.1 L1479.1,1327" fill="none" stroke="#1d1d1b" stroke-width="1.0" />
<path d="M1479.10,1327.00 L1472.78,1323.59 L1474.89,1321.18 Z" fill="#1d1d1b" stroke="none"/>
<g transform="translate(1355.77,1286.23) scale(0.9779,1)"><text x="0.00" y="0" font-size="48.2" fill="#2b2a29">&#216;</text><path d="M576,0 L760,0 L760,1409 L641,1409 Q585,1278 223,1067 L223,900 Q430,990 576,1096 Z" fill="#2b2a29" transform="translate(37.49,0) scale(0.02354,-0.02354)"/><text x="64.30" y="0" font-size="48.2" fill="#2b2a29">32</text></g>
<line x1="1646.50" y1="1290.00" x2="1741.00" y2="1290.00" stroke="#1d1d1b" stroke-width="1.0" />
<line x1="1616.00" y1="1705.60" x2="1741.00" y2="1705.60" stroke="#1d1d1b" stroke-width="1.0" />
<line x1="1736.80" y1="1290.00" x2="1736.80" y2="1705.60" stroke="#1d1d1b" stroke-width="1.0" />
<path d="M1736.80,1290.00 L1738.80,1299.00 L1734.80,1299.00 Z" fill="#1d1d1b" stroke="none"/>
<path d="M1736.80,1705.60 L1734.80,1696.60 L1738.80,1696.60 Z" fill="#1d1d1b" stroke="none"/>
<g transform="translate(1722.06,1546.66) rotate(-90) scale(1.0131,1)"><text x="0.00" y="0" font-size="48.2" fill="#2b2a29">250,</text><path d="M576,0 L760,0 L760,1409 L641,1409 Q585,1278 223,1067 L223,900 Q430,990 576,1096 Z" fill="#2b2a29" transform="translate(93.81,0) scale(0.02354,-0.02354)"/></g>
<line x1="1543.50" y1="1704.40" x2="1543.50" y2="1730.50" stroke="#1d1d1b" stroke-width="1.0" />
<line x1="1578.00" y1="1705.60" x2="1578.00" y2="1730.50" stroke="#1d1d1b" stroke-width="1.0" />
<line x1="1543.50" y1="1727.40" x2="1578.00" y2="1727.40" stroke="#1d1d1b" stroke-width="1.0" />
<path d="M1543.50,1727.40 L1552.00,1725.20 L1552.00,1729.60 Z" fill="#1d1d1b" stroke="none"/>
<path d="M1578.00,1727.40 L1569.50,1729.60 L1569.50,1725.20 Z" fill="#1d1d1b" stroke="none"/>
<g transform="translate(1516.66,1794.22) scale(0.9468,1)"><text x="0.00" y="0" font-size="49.2" fill="#2b2a29">G</text><path d="M576,0 L760,0 L760,1409 L641,1409 Q585,1278 223,1067 L223,900 Q430,990 576,1096 Z" fill="#2b2a29" transform="translate(38.27,0) scale(0.02402,-0.02402)"/><text x="65.63" y="0" font-size="49.2" fill="#2b2a29">/2</text></g>
</svg>
</body></html>
